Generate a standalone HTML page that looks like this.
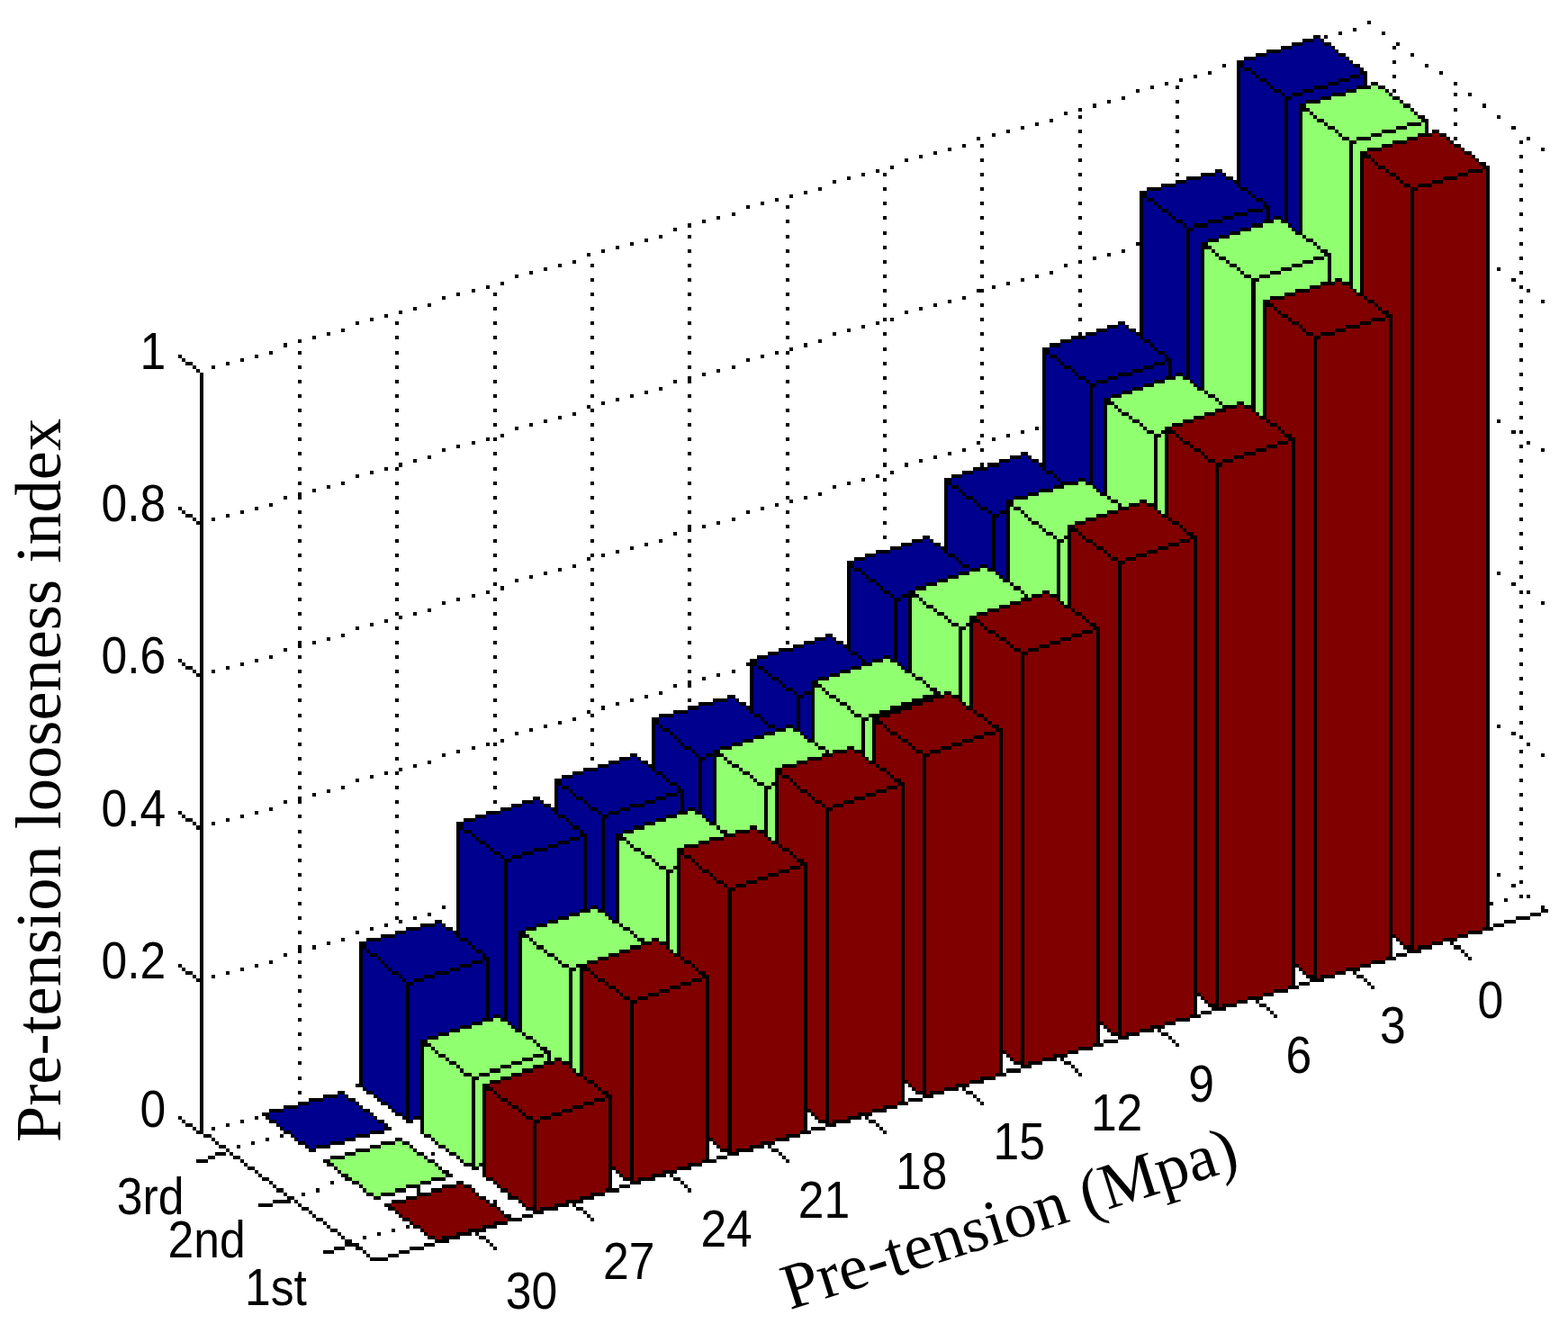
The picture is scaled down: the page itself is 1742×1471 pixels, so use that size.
<!DOCTYPE html>
<html lang="en"><head><meta charset="utf-8"><title>Pre-tension looseness index</title>
<style>
html,body{margin:0;padding:0;background:#fff;}
body{width:1742px;height:1471px;overflow:hidden;position:relative;}
svg{position:absolute;left:0;top:0;display:block;}
.tick text{font-family:"Liberation Sans",sans-serif;font-size:58px;fill:#000;}
.ttl text{font-family:"Liberation Serif",serif;fill:#000;}
</style></head><body>
<svg width="1742" height="1471" viewBox="0 0 1742 1471">
<rect width="1742" height="1471" fill="#fff"/>
<g transform="translate(1.72,2.65) scale(4.0138,4.0301)" shape-rendering="crispEdges">
<path fill="#00008f" d="M363 10h2v1h-2zM360 11h6v1h-6zM357 12h11v1h-11zM354 13h15v1h-15zM350 14h20v1h-20zM347 15h25v1h-25zM344 16h29v1h-29zM344 17h30v1h-30zM343 18h1v1h-1zM346 18h30v1h-30zM343 19h3v1h-3zM347 19h29v1h-29zM343 20h4v1h-4zM348 20h25v1h-25zM376 20h1v1h-1zM343 21h5v1h-5zM350 21h20v1h-20zM373 21h4v1h-4zM343 22h7v1h-7zM351 22h16v1h-16zM370 22h7v1h-7zM343 23h8v1h-8zM352 23h11v1h-11zM367 23h8v1h-8zM343 24h9v1h-9zM354 24h6v1h-6zM363 24h9v1h-9zM343 25h11v1h-11zM355 25h2v1h-2zM360 25h8v1h-8zM343 26h12v25h-12zM357 26h8v1h-8zM356 27h5v1h-5zM356 28h3v33h-3zM336 47h2v1h-2zM332 48h7v1h-7zM328 49h13v1h-13zM325 50h17v1h-17zM321 51h22v1h-22zM345 51h10v1h-10zM317 52h28v1h-28zM346 52h9v1h-9zM317 53h29v1h-29zM347 53h8v1h-8zM316 54h1v1h-1zM319 54h28v1h-28zM349 54h6v1h-6zM316 55h3v1h-3zM320 55h29v1h-29zM350 55h5v1h-5zM316 56h4v1h-4zM321 56h28v1h-28zM351 56h4v3h-4zM316 57h5v1h-5zM323 57h22v1h-22zM349 57h1v1h-1zM316 58h7v1h-7zM324 58h17v1h-17zM345 58h5v1h-5zM316 59h8v1h-8zM325 59h13v1h-13zM341 59h9v1h-9zM351 59h1v1h-1zM354 59h1v1h-1zM316 60h9v1h-9zM327 60h7v1h-7zM338 60h11v1h-11zM316 61h11v1h-11zM328 61h2v1h-2zM334 61h12v1h-12zM357 61h2v1h-2zM316 62h12v31h-12zM330 62h13v1h-13zM358 62h1v1h-1zM329 63h11v1h-11zM329 64h8v1h-8zM329 65h5v1h-5zM329 66h3v38h-3zM309 89h2v1h-2zM306 90h6v1h-6zM303 91h11v1h-11zM300 92h15v1h-15zM296 93h20v1h-20zM318 93h10v1h-10zM293 94h25v1h-25zM319 94h9v1h-9zM290 95h29v1h-29zM320 95h8v1h-8zM290 96h30v1h-30zM322 96h6v1h-6zM289 97h1v1h-1zM292 97h30v1h-30zM323 97h5v1h-5zM289 98h3v1h-3zM293 98h29v1h-29zM324 98h4v4h-4zM289 99h4v1h-4zM294 99h25v1h-25zM322 99h1v1h-1zM289 100h5v1h-5zM296 100h20v1h-20zM319 100h4v1h-4zM289 101h7v1h-7zM297 101h16v1h-16zM316 101h7v1h-7zM289 102h8v1h-8zM298 102h11v1h-11zM313 102h10v1h-10zM324 102h1v1h-1zM327 102h1v1h-1zM289 103h9v1h-9zM300 103h6v1h-6zM309 103h13v1h-13zM289 104h11v1h-11zM301 104h2v1h-2zM306 104h13v1h-13zM330 104h2v1h-2zM289 105h12v24h-12zM303 105h13v1h-13zM331 105h1v1h-1zM302 106h11v1h-11zM302 107h8v1h-8zM302 108h5v1h-5zM302 109h3v24h-3zM282 125h2v1h-2zM279 126h6v1h-6zM276 127h11v1h-11zM273 128h15v1h-15zM269 129h20v1h-20zM291 129h10v1h-10zM266 130h25v1h-25zM292 130h9v1h-9zM263 131h29v1h-29zM293 131h5v1h-5zM300 131h1v1h-1zM263 132h30v1h-30zM262 133h1v1h-1zM265 133h26v1h-26zM303 133h2v1h-2zM262 134h3v1h-3zM266 134h21v1h-21zM304 134h1v1h-1zM262 135h4v1h-4zM267 135h17v1h-17zM262 136h5v1h-5zM269 136h11v1h-11zM262 137h7v1h-7zM270 137h8v1h-8zM262 138h8v1h-8zM271 138h7v1h-7zM262 139h9v1h-9zM273 139h5v1h-5zM262 140h11v1h-11zM274 140h2v1h-2zM262 141h12v11h-12zM276 141h2v1h-2zM275 142h3v15h-3zM255 148h2v1h-2zM252 149h6v1h-6zM249 150h11v1h-11zM246 151h15v1h-15zM242 152h20v1h-20zM264 152h10v1h-10zM239 153h25v1h-25zM265 153h9v1h-9zM236 154h29v1h-29zM266 154h8v1h-8zM236 155h30v1h-30zM268 155h3v1h-3zM273 155h1v1h-1zM235 156h1v1h-1zM238 156h30v1h-30zM235 157h3v1h-3zM239 157h26v1h-26zM276 157h2v1h-2zM235 158h4v1h-4zM240 158h22v1h-22zM277 158h1v1h-1zM235 159h5v1h-5zM242 159h17v1h-17zM235 160h7v1h-7zM243 160h13v1h-13zM235 161h8v1h-8zM244 161h9v1h-9zM235 162h9v1h-9zM246 162h5v1h-5zM235 163h11v1h-11zM247 163h2v1h-2zM235 164h12v15h-12zM249 164h2v1h-2zM248 165h3v17h-3zM228 175h2v1h-2zM225 176h6v1h-6zM222 177h11v1h-11zM219 178h15v1h-15zM215 179h20v1h-20zM237 179h10v1h-10zM212 180h25v1h-25zM238 180h6v1h-6zM246 180h1v1h-1zM209 181h29v2h-29zM239 181h2v1h-2zM249 182h2v1h-2zM208 183h1v1h-1zM211 183h24v1h-24zM250 183h1v1h-1zM208 184h3v1h-3zM212 184h20v1h-20zM208 185h4v1h-4zM213 185h16v1h-16zM208 186h5v1h-5zM215 186h11v1h-11zM208 187h7v1h-7zM216 187h8v1h-8zM208 188h8v1h-8zM217 188h7v1h-7zM208 189h9v1h-9zM219 189h5v1h-5zM208 190h11v1h-11zM220 190h2v1h-2zM208 191h12v5h-12zM222 191h2v1h-2zM201 192h2v1h-2zM221 192h3v9h-3zM197 193h7v1h-7zM193 194h13v1h-13zM190 195h17v1h-17zM186 196h22v1h-22zM210 196h10v1h-10zM182 197h28v1h-28zM211 197h9v1h-9zM182 198h29v1h-29zM212 198h8v1h-8zM181 199h1v1h-1zM183 199h29v1h-29zM214 199h3v1h-3zM219 199h1v1h-1zM181 200h2v1h-2zM185 200h29v1h-29zM181 201h4v1h-4zM186 201h25v1h-25zM222 201h2v1h-2zM181 202h5v1h-5zM187 202h21v1h-21zM223 202h1v1h-1zM181 203h6v1h-6zM188 203h17v1h-17zM181 204h7v1h-7zM189 204h13v1h-13zM181 205h8v1h-8zM191 205h8v1h-8zM181 206h10v1h-10zM192 206h5v1h-5zM181 207h11v1h-11zM193 207h2v1h-2zM174 208h2v1h-2zM181 208h12v4h-12zM195 208h2v1h-2zM171 209h6v1h-6zM194 209h3v15h-3zM168 210h11v1h-11zM165 211h15v1h-15zM161 212h20v1h-20zM183 212h10v1h-10zM158 213h25v1h-25zM184 213h9v1h-9zM155 214h29v1h-29zM185 214h8v1h-8zM155 215h30v1h-30zM187 215h6v1h-6zM154 216h1v1h-1zM157 216h30v1h-30zM188 216h5v1h-5zM154 217h3v1h-3zM158 217h29v1h-29zM189 217h4v5h-4zM154 218h4v1h-4zM159 218h25v1h-25zM187 218h1v1h-1zM154 219h5v1h-5zM161 219h20v1h-20zM184 219h4v1h-4zM147 220h2v1h-2zM154 220h7v1h-7zM162 220h16v1h-16zM181 220h7v1h-7zM144 221h6v1h-6zM154 221h8v1h-8zM163 221h11v1h-11zM178 221h10v1h-10zM141 222h11v1h-11zM154 222h9v1h-9zM165 222h6v1h-6zM174 222h14v1h-14zM189 222h1v1h-1zM192 222h1v1h-1zM138 223h15v1h-15zM154 223h11v1h-11zM166 223h2v1h-2zM171 223h16v1h-16zM134 224h20v1h-20zM156 224h10v1h-10zM168 224h16v1h-16zM195 224h2v1h-2zM131 225h25v1h-25zM157 225h9v1h-9zM167 225h14v1h-14zM196 225h1v1h-1zM128 226h29v1h-29zM158 226h8v1h-8zM167 226h11v1h-11zM128 227h30v1h-30zM160 227h6v1h-6zM167 227h8v1h-8zM127 228h1v1h-1zM130 228h30v1h-30zM161 228h5v1h-5zM167 228h5v1h-5zM127 229h3v1h-3zM131 229h29v1h-29zM162 229h4v20h-4zM167 229h3v22h-3zM127 230h4v1h-4zM132 230h25v1h-25zM160 230h1v1h-1zM127 231h5v1h-5zM134 231h20v1h-20zM157 231h4v1h-4zM127 232h7v1h-7zM135 232h16v1h-16zM154 232h7v1h-7zM127 233h8v1h-8zM136 233h11v1h-11zM151 233h10v1h-10zM127 234h9v1h-9zM138 234h6v1h-6zM147 234h14v1h-14zM127 235h11v1h-11zM139 235h2v1h-2zM144 235h17v1h-17zM127 236h12v22h-12zM141 236h20v1h-20zM140 237h21v13h-21zM162 249h1v1h-1zM165 249h1v1h-1zM140 250h20v1h-20zM140 251h17v1h-17zM168 251h2v1h-2zM140 252h14v1h-14zM169 252h1v1h-1zM140 253h11v1h-11zM120 254h2v1h-2zM140 254h8v1h-8zM116 255h7v1h-7zM140 255h5v1h-5zM112 256h13v1h-13zM140 256h3v25h-3zM109 257h17v1h-17zM105 258h22v1h-22zM129 258h10v1h-10zM101 259h28v1h-28zM130 259h9v1h-9zM101 260h29v1h-29zM131 260h8v1h-8zM100 261h1v1h-1zM102 261h29v1h-29zM133 261h6v1h-6zM100 262h2v1h-2zM104 262h29v1h-29zM134 262h5v1h-5zM100 263h4v1h-4zM105 263h28v1h-28zM135 263h4v16h-4zM100 264h5v1h-5zM106 264h24v1h-24zM133 264h1v1h-1zM100 265h6v1h-6zM107 265h20v1h-20zM130 265h4v1h-4zM100 266h7v1h-7zM108 266h16v1h-16zM127 266h7v1h-7zM100 267h8v1h-8zM110 267h10v1h-10zM124 267h10v1h-10zM100 268h10v1h-10zM111 268h6v1h-6zM120 268h14v1h-14zM100 269h11v1h-11zM112 269h2v1h-2zM117 269h17v1h-17zM100 270h12v29h-12zM114 270h20v1h-20zM113 271h21v9h-21zM135 279h1v1h-1zM138 279h1v1h-1zM113 280h20v1h-20zM113 281h17v1h-17zM141 281h2v1h-2zM113 282h14v1h-14zM142 282h1v1h-1zM113 283h11v1h-11zM113 284h8v1h-8zM113 285h5v1h-5zM113 286h3v21h-3zM101 299h11v1h-11zM103 300h9v1h-9zM93 301h2v1h-2zM104 301h8v1h-8zM89 302h7v1h-7zM105 302h7v1h-7zM85 303h13v1h-13zM107 303h5v1h-5zM82 304h17v1h-17zM108 304h4v1h-4zM78 305h22v1h-22zM109 305h3v1h-3zM74 306h28v1h-28zM111 306h1v1h-1zM74 307h29v1h-29zM113 307h1v1h-1zM76 308h28v1h-28zM77 309h29v1h-29zM78 310h28v1h-28zM80 311h22v1h-22zM81 312h17v1h-17zM82 313h13v1h-13zM84 314h7v1h-7zM85 315h2v1h-2z"/>
<path fill="#90ff70" d="M379 23h2v1h-2zM375 24h8v1h-8zM372 25h12v1h-12zM368 26h17v1h-17zM365 27h22v1h-22zM361 28h27v1h-27zM362 29h28v1h-28zM360 30h2v1h-2zM363 30h28v1h-28zM360 31h3v1h-3zM364 31h28v1h-28zM360 32h4v1h-4zM366 32h27v1h-27zM360 33h6v1h-6zM367 33h22v1h-22zM393 33h1v1h-1zM360 34h7v1h-7zM369 34h17v1h-17zM389 34h5v1h-5zM360 35h9v1h-9zM370 35h12v1h-12zM386 35h8v1h-8zM360 36h10v1h-10zM371 36h8v1h-8zM382 36h10v1h-10zM360 37h11v1h-11zM373 37h2v1h-2zM379 37h10v1h-10zM360 38h13v26h-13zM375 38h10v1h-10zM374 39h8v1h-8zM374 40h4v1h-4zM374 41h2v38h-2zM352 60h2v1h-2zM349 61h7v1h-7zM346 62h11v1h-11zM343 63h15v1h-15zM340 64h20v1h-20zM361 64h12v1h-12zM337 65h24v1h-24zM363 65h10v1h-10zM334 66h29v1h-29zM364 66h9v1h-9zM335 67h29v1h-29zM365 67h8v1h-8zM333 68h2v1h-2zM336 68h29v1h-29zM367 68h6v1h-6zM333 69h3v1h-3zM337 69h29v1h-29zM368 69h5v7h-5zM333 70h4v1h-4zM339 70h24v1h-24zM366 70h1v1h-1zM333 71h6v1h-6zM340 71h20v1h-20zM363 71h4v1h-4zM333 72h7v1h-7zM342 72h15v1h-15zM360 72h7v1h-7zM333 73h9v1h-9zM343 73h11v1h-11zM357 73h10v1h-10zM333 74h10v1h-10zM344 74h7v1h-7zM354 74h13v1h-13zM333 75h11v1h-11zM346 75h2v1h-2zM351 75h16v1h-16zM333 76h13v31h-13zM348 76h19v1h-19zM368 76h1v1h-1zM371 76h2v1h-2zM347 77h18v1h-18zM347 78h15v1h-15zM347 79h11v1h-11zM375 79h1v1h-1zM347 80h8v1h-8zM347 81h4v1h-4zM347 82h2v31h-2zM325 103h2v1h-2zM322 104h7v1h-7zM319 105h11v1h-11zM316 106h15v1h-15zM313 107h20v1h-20zM334 107h12v1h-12zM310 108h24v1h-24zM336 108h10v1h-10zM307 109h29v1h-29zM337 109h9v1h-9zM308 110h29v1h-29zM338 110h4v1h-4zM344 110h2v1h-2zM306 111h2v1h-2zM309 111h29v1h-29zM306 112h3v1h-3zM310 112h26v1h-26zM306 113h4v1h-4zM312 113h21v1h-21zM348 113h1v1h-1zM306 114h6v1h-6zM313 114h17v1h-17zM306 115h7v1h-7zM315 115h12v1h-12zM306 116h9v1h-9zM316 116h8v1h-8zM306 117h10v1h-10zM317 117h5v1h-5zM306 118h11v1h-11zM319 118h2v1h-2zM306 119h13v17h-13zM321 119h1v1h-1zM320 120h2v20h-2zM298 132h2v1h-2zM294 133h8v1h-8zM291 134h12v1h-12zM287 135h17v1h-17zM284 136h22v1h-22zM307 136h12v1h-12zM280 137h27v1h-27zM309 137h6v1h-6zM317 137h2v1h-2zM280 138h29v1h-29zM310 138h2v1h-2zM279 139h1v1h-1zM282 139h27v1h-27zM279 140h3v1h-3zM283 140h23v1h-23zM321 140h1v1h-1zM279 141h4v1h-4zM284 141h19v1h-19zM279 142h5v1h-5zM285 142h15v1h-15zM279 143h6v1h-6zM287 143h10v1h-10zM279 144h8v1h-8zM288 144h7v1h-7zM279 145h9v1h-9zM289 145h6v1h-6zM279 146h10v1h-10zM291 146h4v1h-4zM279 147h12v1h-12zM292 147h2v1h-2zM279 148h13v12h-13zM294 148h1v1h-1zM293 149h2v16h-2zM271 156h2v1h-2zM268 157h7v1h-7zM265 158h11v1h-11zM262 159h15v1h-15zM259 160h20v1h-20zM280 160h12v1h-12zM256 161h24v1h-24zM282 161h10v1h-10zM253 162h29v1h-29zM283 162h5v1h-5zM290 162h2v1h-2zM254 163h29v1h-29zM284 163h1v1h-1zM252 164h2v1h-2zM255 164h27v1h-27zM252 165h3v1h-3zM256 165h23v1h-23zM294 165h1v1h-1zM252 166h4v1h-4zM258 166h18v1h-18zM252 167h6v1h-6zM259 167h14v1h-14zM252 168h7v1h-7zM261 168h9v1h-9zM252 169h9v1h-9zM262 169h6v1h-6zM252 170h10v1h-10zM263 170h5v1h-5zM252 171h11v1h-11zM265 171h2v1h-2zM252 172h13v13h-13zM267 172h1v1h-1zM266 173h2v20h-2zM244 181h2v1h-2zM241 182h7v1h-7zM238 183h11v1h-11zM235 184h15v1h-15zM232 185h20v1h-20zM253 185h12v1h-12zM229 186h24v1h-24zM255 186h10v1h-10zM226 187h29v1h-29zM256 187h9v1h-9zM227 188h29v1h-29zM257 188h8v1h-8zM225 189h2v1h-2zM228 189h29v1h-29zM259 189h6v1h-6zM225 190h3v1h-3zM229 190h29v1h-29zM260 190h1v1h-1zM263 190h2v1h-2zM225 191h4v1h-4zM231 191h24v1h-24zM225 192h6v1h-6zM232 192h20v1h-20zM225 193h7v1h-7zM234 193h15v1h-15zM267 193h1v1h-1zM225 194h9v1h-9zM235 194h11v1h-11zM225 195h10v1h-10zM236 195h7v1h-7zM225 196h11v1h-11zM238 196h2v1h-2zM225 197h13v7h-13zM240 197h1v1h-1zM239 198h2v10h-2zM217 200h2v1h-2zM214 201h7v1h-7zM211 202h11v1h-11zM208 203h15v1h-15zM205 204h20v1h-20zM226 204h12v1h-12zM202 205h24v1h-24zM228 205h6v1h-6zM236 205h2v1h-2zM199 206h29v1h-29zM229 206h1v1h-1zM200 207h27v1h-27zM198 208h2v1h-2zM201 208h22v1h-22zM240 208h1v1h-1zM198 209h3v1h-3zM202 209h18v1h-18zM198 210h4v1h-4zM204 210h12v1h-12zM198 211h6v1h-6zM205 211h9v1h-9zM198 212h7v1h-7zM207 212h7v1h-7zM198 213h9v1h-9zM208 213h6v1h-6zM198 214h10v1h-10zM209 214h5v1h-5zM198 215h11v1h-11zM211 215h2v1h-2zM198 216h13v11h-13zM213 216h1v1h-1zM212 217h2v13h-2zM190 223h2v1h-2zM187 224h7v1h-7zM184 225h11v1h-11zM181 226h15v1h-15zM178 227h20v1h-20zM199 227h8v1h-8zM209 227h2v1h-2zM175 228h24v1h-24zM201 228h2v1h-2zM172 229h28v1h-28zM173 230h23v1h-23zM213 230h1v1h-1zM171 231h2v1h-2zM174 231h19v1h-19zM171 232h3v1h-3zM175 232h14v1h-14zM171 233h4v1h-4zM177 233h10v1h-10zM171 234h6v1h-6zM178 234h9v1h-9zM171 235h7v1h-7zM180 235h7v1h-7zM171 236h9v1h-9zM181 236h6v1h-6zM171 237h10v1h-10zM182 237h5v1h-5zM171 238h11v1h-11zM184 238h2v1h-2zM171 239h13v15h-13zM186 239h1v1h-1zM185 240h2v21h-2zM163 250h2v1h-2zM160 251h7v1h-7zM157 252h11v1h-11zM154 253h15v1h-15zM151 254h20v1h-20zM172 254h12v1h-12zM148 255h24v1h-24zM174 255h10v1h-10zM145 256h29v1h-29zM175 256h9v1h-9zM146 257h29v1h-29zM176 257h8v1h-8zM144 258h2v1h-2zM147 258h29v1h-29zM178 258h2v1h-2zM182 258h2v1h-2zM144 259h3v1h-3zM148 259h29v1h-29zM144 260h4v1h-4zM150 260h24v1h-24zM144 261h6v1h-6zM151 261h20v1h-20zM186 261h1v1h-1zM144 262h7v1h-7zM153 262h15v1h-15zM144 263h9v1h-9zM154 263h11v1h-11zM144 264h10v1h-10zM155 264h7v1h-7zM144 265h11v1h-11zM157 265h2v1h-2zM144 266h13v18h-13zM159 266h1v1h-1zM158 267h2v27h-2zM136 280h2v1h-2zM133 281h7v1h-7zM130 282h11v1h-11zM127 283h15v1h-15zM124 284h20v1h-20zM145 284h12v1h-12zM121 285h24v1h-24zM147 285h10v1h-10zM118 286h29v1h-29zM148 286h9v1h-9zM119 287h29v1h-29zM149 287h8v1h-8zM117 288h2v1h-2zM120 288h29v1h-29zM151 288h6v1h-6zM117 289h3v1h-3zM121 289h29v1h-29zM152 289h5v2h-5zM117 290h4v1h-4zM123 290h24v1h-24zM150 290h1v1h-1zM117 291h6v1h-6zM124 291h20v1h-20zM147 291h4v1h-4zM152 291h1v1h-1zM155 291h2v1h-2zM117 292h7v1h-7zM126 292h15v1h-15zM144 292h6v1h-6zM117 293h9v1h-9zM127 293h11v1h-11zM141 293h6v1h-6zM117 294h10v1h-10zM128 294h7v1h-7zM138 294h6v1h-6zM159 294h1v1h-1zM117 295h11v1h-11zM130 295h2v1h-2zM135 295h6v1h-6zM117 296h13v16h-13zM132 296h6v1h-6zM131 297h4v1h-4zM131 298h2v22h-2zM119 312h11v1h-11zM120 313h10v1h-10zM109 314h2v1h-2zM121 314h9v1h-9zM105 315h8v1h-8zM123 315h7v1h-7zM102 316h12v1h-12zM124 316h6v1h-6zM98 317h17v1h-17zM126 317h4v1h-4zM95 318h22v1h-22zM127 318h3v1h-3zM91 319h27v1h-27zM128 319h2v1h-2zM92 320h28v1h-28zM131 320h1v1h-1zM93 321h28v1h-28zM94 322h28v1h-28zM96 323h27v1h-27zM97 324h22v1h-22zM99 325h17v1h-17zM100 326h12v1h-12zM101 327h8v1h-8zM103 328h2v1h-2z"/>
<path fill="#800000" d="M396 36h2v1h-2zM392 37h8v1h-8zM389 38h12v1h-12zM385 39h17v1h-17zM382 40h22v1h-22zM378 41h27v1h-27zM379 42h28v1h-28zM377 43h2v1h-2zM380 43h28v1h-28zM377 44h3v1h-3zM381 44h28v1h-28zM377 45h4v1h-4zM383 45h27v1h-27zM377 46h6v1h-6zM384 46h22v1h-22zM410 46h1v1h-1zM377 47h7v1h-7zM386 47h17v1h-17zM406 47h5v1h-5zM377 48h9v1h-9zM387 48h12v1h-12zM403 48h8v1h-8zM377 49h10v1h-10zM388 49h8v1h-8zM399 49h12v1h-12zM377 50h11v1h-11zM390 50h2v1h-2zM396 50h15v1h-15zM377 51h13v30h-13zM392 51h19v1h-19zM391 52h20v203h-20zM369 77h2v1h-2zM365 78h8v1h-8zM362 79h12v1h-12zM358 80h17v1h-17zM355 81h22v1h-22zM378 81h12v1h-12zM351 82h27v1h-27zM380 82h10v1h-10zM352 83h28v1h-28zM381 83h9v1h-9zM350 84h2v1h-2zM353 84h28v1h-28zM382 84h8v1h-8zM350 85h3v1h-3zM354 85h28v1h-28zM384 85h6v1h-6zM350 86h4v1h-4zM356 86h27v1h-27zM385 86h5v171h-5zM350 87h6v1h-6zM357 87h22v1h-22zM383 87h1v1h-1zM350 88h7v1h-7zM359 88h17v1h-17zM379 88h5v1h-5zM350 89h9v1h-9zM360 89h12v1h-12zM376 89h8v1h-8zM350 90h10v1h-10zM361 90h8v1h-8zM372 90h12v1h-12zM350 91h11v1h-11zM363 91h2v1h-2zM369 91h15v1h-15zM350 92h13v23h-13zM365 92h19v1h-19zM364 93h20v170h-20zM342 111h2v1h-2zM339 112h7v1h-7zM336 113h11v1h-11zM333 114h15v1h-15zM330 115h20v1h-20zM351 115h12v1h-12zM327 116h24v1h-24zM353 116h10v1h-10zM324 117h29v1h-29zM354 117h9v1h-9zM325 118h29v1h-29zM355 118h8v1h-8zM323 119h2v1h-2zM326 119h29v1h-29zM357 119h6v1h-6zM323 120h3v1h-3zM327 120h29v1h-29zM358 120h5v145h-5zM323 121h4v1h-4zM329 121h24v1h-24zM356 121h1v1h-1zM323 122h6v1h-6zM330 122h20v1h-20zM353 122h4v1h-4zM323 123h7v1h-7zM332 123h15v1h-15zM350 123h7v1h-7zM323 124h9v1h-9zM333 124h11v1h-11zM347 124h10v1h-10zM323 125h10v1h-10zM334 125h7v1h-7zM344 125h13v1h-13zM323 126h11v1h-11zM336 126h2v1h-2zM341 126h16v1h-16zM323 127h13v15h-13zM338 127h19v1h-19zM337 128h20v143h-20zM315 138h2v1h-2zM312 139h7v1h-7zM309 140h11v1h-11zM306 141h15v1h-15zM303 142h20v1h-20zM324 142h12v1h-12zM300 143h24v1h-24zM326 143h10v1h-10zM297 144h29v1h-29zM327 144h9v1h-9zM298 145h29v1h-29zM328 145h8v1h-8zM296 146h2v1h-2zM299 146h29v1h-29zM330 146h6v1h-6zM296 147h3v1h-3zM300 147h29v1h-29zM331 147h5v126h-5zM296 148h4v1h-4zM302 148h24v1h-24zM329 148h1v1h-1zM296 149h6v1h-6zM303 149h20v1h-20zM326 149h4v1h-4zM296 150h7v1h-7zM305 150h15v1h-15zM323 150h7v1h-7zM296 151h9v1h-9zM306 151h11v1h-11zM320 151h10v1h-10zM296 152h10v1h-10zM307 152h7v1h-7zM317 152h13v1h-13zM296 153h11v1h-11zM309 153h2v1h-2zM314 153h16v1h-16zM296 154h13v13h-13zM311 154h19v1h-19zM310 155h20v124h-20zM288 163h2v1h-2zM285 164h7v1h-7zM282 165h11v1h-11zM279 166h15v1h-15zM276 167h20v1h-20zM297 167h12v1h-12zM273 168h24v1h-24zM299 168h10v1h-10zM270 169h29v1h-29zM300 169h9v1h-9zM271 170h29v1h-29zM301 170h8v1h-8zM269 171h2v1h-2zM272 171h29v1h-29zM303 171h6v1h-6zM269 172h3v1h-3zM273 172h29v1h-29zM304 172h5v109h-5zM269 173h4v1h-4zM275 173h24v1h-24zM302 173h1v1h-1zM269 174h6v1h-6zM276 174h20v1h-20zM299 174h4v1h-4zM269 175h7v1h-7zM278 175h15v1h-15zM296 175h7v1h-7zM269 176h9v1h-9zM279 176h11v1h-11zM293 176h10v1h-10zM269 177h10v1h-10zM280 177h7v1h-7zM290 177h13v1h-13zM269 178h11v1h-11zM282 178h2v1h-2zM287 178h16v1h-16zM269 179h13v16h-13zM284 179h19v1h-19zM283 180h20v107h-20zM261 191h2v1h-2zM258 192h7v1h-7zM255 193h11v1h-11zM252 194h15v1h-15zM249 195h20v1h-20zM270 195h12v1h-12zM246 196h24v1h-24zM272 196h10v1h-10zM243 197h29v1h-29zM273 197h9v1h-9zM244 198h29v1h-29zM274 198h8v1h-8zM242 199h2v1h-2zM245 199h29v1h-29zM276 199h6v1h-6zM242 200h3v1h-3zM246 200h29v1h-29zM277 200h5v89h-5zM242 201h4v1h-4zM248 201h24v1h-24zM275 201h1v1h-1zM242 202h6v1h-6zM249 202h20v1h-20zM272 202h4v1h-4zM242 203h7v1h-7zM251 203h15v1h-15zM269 203h7v1h-7zM242 204h9v1h-9zM252 204h11v1h-11zM266 204h10v1h-10zM242 205h10v1h-10zM253 205h7v1h-7zM263 205h13v1h-13zM234 206h2v1h-2zM242 206h11v1h-11zM255 206h2v1h-2zM260 206h16v1h-16zM230 207h8v1h-8zM242 207h13v3h-13zM257 207h19v1h-19zM227 208h12v1h-12zM256 208h20v87h-20zM223 209h17v1h-17zM220 210h22v1h-22zM243 210h12v1h-12zM216 211h27v1h-27zM245 211h10v1h-10zM216 212h29v1h-29zM246 212h9v1h-9zM215 213h1v1h-1zM218 213h28v1h-28zM247 213h8v1h-8zM215 214h3v1h-3zM219 214h28v1h-28zM249 214h6v1h-6zM215 215h4v1h-4zM220 215h28v1h-28zM250 215h5v82h-5zM215 216h5v1h-5zM221 216h24v1h-24zM248 216h1v1h-1zM215 217h6v1h-6zM223 217h19v1h-19zM245 217h4v1h-4zM215 218h8v1h-8zM224 218h15v1h-15zM242 218h7v1h-7zM215 219h9v1h-9zM225 219h11v1h-11zM239 219h10v1h-10zM215 220h10v1h-10zM227 220h6v1h-6zM236 220h13v1h-13zM215 221h12v1h-12zM228 221h2v1h-2zM233 221h16v1h-16zM215 222h13v10h-13zM230 222h19v1h-19zM229 223h20v80h-20zM207 228h2v1h-2zM203 229h8v1h-8zM200 230h12v1h-12zM196 231h17v1h-17zM193 232h22v1h-22zM216 232h12v1h-12zM189 233h27v1h-27zM218 233h10v1h-10zM189 234h29v1h-29zM219 234h9v1h-9zM188 235h1v1h-1zM191 235h28v1h-28zM220 235h8v1h-8zM188 236h3v1h-3zM192 236h28v1h-28zM222 236h6v1h-6zM188 237h4v1h-4zM193 237h28v1h-28zM223 237h5v68h-5zM188 238h5v1h-5zM194 238h24v1h-24zM221 238h1v1h-1zM188 239h6v1h-6zM196 239h19v1h-19zM218 239h4v1h-4zM188 240h8v1h-8zM197 240h15v1h-15zM215 240h7v1h-7zM188 241h9v1h-9zM198 241h11v1h-11zM212 241h10v1h-10zM188 242h10v1h-10zM200 242h6v1h-6zM209 242h13v1h-13zM188 243h12v1h-12zM201 243h2v1h-2zM206 243h16v1h-16zM188 244h13v19h-13zM203 244h19v1h-19zM202 245h20v66h-20zM391 255h19v1h-19zM391 256h15v1h-15zM386 257h4v1h-4zM391 257h12v1h-12zM387 258h3v1h-3zM391 258h8v1h-8zM180 259h2v1h-2zM388 259h2v1h-2zM391 259h5v1h-5zM177 260h7v1h-7zM391 260h1v1h-1zM174 261h11v1h-11zM171 262h15v1h-15zM168 263h20v1h-20zM189 263h12v1h-12zM364 263h19v1h-19zM165 264h24v1h-24zM191 264h10v1h-10zM364 264h15v1h-15zM162 265h29v1h-29zM192 265h9v1h-9zM359 265h4v1h-4zM364 265h12v1h-12zM163 266h29v1h-29zM193 266h8v1h-8zM360 266h3v1h-3zM364 266h8v1h-8zM161 267h2v1h-2zM164 267h29v1h-29zM195 267h6v1h-6zM361 267h2v1h-2zM364 267h5v1h-5zM161 268h3v1h-3zM165 268h29v1h-29zM196 268h5v45h-5zM364 268h1v1h-1zM161 269h4v1h-4zM167 269h24v1h-24zM194 269h1v1h-1zM161 270h6v1h-6zM168 270h20v1h-20zM191 270h4v1h-4zM161 271h7v1h-7zM170 271h15v1h-15zM188 271h7v1h-7zM337 271h19v1h-19zM161 272h9v1h-9zM171 272h11v1h-11zM185 272h10v1h-10zM337 272h15v1h-15zM161 273h10v1h-10zM172 273h7v1h-7zM182 273h13v1h-13zM332 273h4v1h-4zM337 273h12v1h-12zM161 274h11v1h-11zM174 274h2v1h-2zM179 274h16v1h-16zM333 274h3v1h-3zM337 274h8v1h-8zM161 275h13v21h-13zM176 275h19v1h-19zM334 275h2v1h-2zM337 275h5v1h-5zM175 276h20v43h-20zM337 276h1v1h-1zM310 279h19v1h-19zM310 280h15v1h-15zM305 281h4v1h-4zM310 281h12v1h-12zM306 282h3v1h-3zM310 282h8v1h-8zM307 283h2v1h-2zM310 283h5v1h-5zM310 284h1v1h-1zM283 287h19v1h-19zM283 288h15v1h-15zM278 289h4v1h-4zM283 289h12v1h-12zM279 290h3v1h-3zM283 290h8v1h-8zM280 291h2v1h-2zM283 291h5v1h-5zM153 292h2v1h-2zM283 292h1v1h-1zM150 293h7v1h-7zM147 294h11v1h-11zM144 295h15v1h-15zM256 295h19v1h-19zM141 296h20v1h-20zM162 296h12v1h-12zM256 296h15v1h-15zM138 297h24v1h-24zM164 297h10v1h-10zM251 297h4v1h-4zM256 297h12v1h-12zM135 298h29v1h-29zM165 298h9v1h-9zM252 298h3v1h-3zM256 298h8v1h-8zM136 299h29v1h-29zM166 299h8v1h-8zM253 299h2v1h-2zM256 299h5v1h-5zM134 300h2v1h-2zM137 300h29v1h-29zM168 300h6v1h-6zM256 300h1v1h-1zM134 301h3v1h-3zM138 301h29v1h-29zM169 301h5v20h-5zM134 302h4v1h-4zM140 302h24v1h-24zM167 302h1v1h-1zM134 303h6v1h-6zM141 303h20v1h-20zM164 303h4v1h-4zM229 303h19v1h-19zM134 304h7v1h-7zM143 304h15v1h-15zM161 304h7v1h-7zM229 304h15v1h-15zM134 305h9v1h-9zM144 305h11v1h-11zM158 305h10v1h-10zM224 305h4v1h-4zM229 305h12v1h-12zM134 306h10v1h-10zM145 306h7v1h-7zM155 306h13v1h-13zM225 306h3v1h-3zM229 306h8v1h-8zM134 307h11v1h-11zM147 307h2v1h-2zM152 307h16v1h-16zM226 307h2v1h-2zM229 307h5v1h-5zM134 308h13v16h-13zM149 308h19v1h-19zM229 308h1v1h-1zM148 309h20v18h-20zM202 311h19v1h-19zM202 312h15v1h-15zM197 313h4v1h-4zM202 313h12v1h-12zM198 314h3v1h-3zM202 314h8v1h-8zM199 315h2v1h-2zM202 315h5v1h-5zM202 316h1v1h-1zM175 319h19v1h-19zM175 320h15v1h-15zM170 321h4v1h-4zM175 321h12v1h-12zM171 322h3v1h-3zM175 322h8v1h-8zM172 323h2v1h-2zM175 323h5v1h-5zM136 324h11v1h-11zM175 324h1v1h-1zM137 325h10v1h-10zM126 326h2v1h-2zM138 326h9v1h-9zM122 327h8v1h-8zM140 327h7v1h-7zM148 327h19v1h-19zM119 328h12v1h-12zM141 328h6v1h-6zM148 328h15v1h-15zM115 329h17v1h-17zM143 329h4v1h-4zM148 329h12v1h-12zM112 330h22v1h-22zM144 330h3v1h-3zM148 330h8v1h-8zM108 331h27v1h-27zM145 331h2v1h-2zM148 331h5v1h-5zM109 332h28v1h-28zM148 332h1v1h-1zM110 333h28v1h-28zM111 334h28v1h-28zM113 335h27v1h-27zM114 336h22v1h-22zM116 337h17v1h-17zM117 338h12v1h-12zM118 339h8v1h-8zM120 340h2v1h-2z"/>
<path fill="#000000" d="M378 5h1v1h-1zM374 7h1v1h-1zM370 8h1v1h-1zM382 8h1v1h-1zM363 9h2v1h-2zM366 9h1v1h-1zM360 10h3v1h-3zM365 10h1v1h-1zM357 11h3v1h-3zM366 11h2v1h-2zM386 11h1v1h-1zM354 12h3v1h-3zM368 12h1v1h-1zM385 12h1v1h-1zM350 13h4v1h-4zM369 13h1v1h-1zM347 14h3v1h-3zM370 14h2v1h-2zM390 14h1v1h-1zM344 15h3v1h-3zM372 15h1v1h-1zM342 16h2v2h-2zM373 16h1v1h-1zM385 16h1v1h-1zM338 17h1v1h-1zM374 17h2v1h-2zM394 17h1v1h-1zM342 18h1v31h-1zM344 18h2v1h-2zM376 18h1v1h-1zM334 19h1v1h-1zM346 19h1v1h-1zM376 19h2v1h-2zM398 19h1v1h-1zM330 20h1v1h-1zM347 20h1v1h-1zM373 20h3v1h-3zM377 20h1v3h-1zM385 20h1v1h-1zM326 21h1v1h-1zM348 21h2v1h-2zM370 21h3v1h-3zM322 22h1v1h-1zM350 22h1v1h-1zM367 22h3v1h-3zM379 22h2v1h-2zM402 22h1v1h-1zM318 23h1v1h-1zM325 23h1v1h-1zM351 23h1v1h-1zM363 23h4v1h-4zM375 23h4v1h-4zM381 23h2v1h-2zM314 24h1v1h-1zM352 24h2v1h-2zM360 24h3v1h-3zM372 24h3v1h-3zM383 24h1v1h-1zM385 24h1v1h-1zM354 25h1v1h-1zM357 25h3v1h-3zM368 25h4v1h-4zM384 25h1v1h-1zM402 25h1v1h-1zM406 25h1v1h-1zM310 26h1v1h-1zM355 26h2v1h-2zM365 26h3v1h-3zM385 26h2v1h-2zM306 27h1v1h-1zM325 27h1v1h-1zM355 27h1v33h-1zM361 27h4v1h-4zM387 27h1v1h-1zM302 28h1v1h-1zM359 28h2v1h-2zM388 28h2v1h-2zM410 28h1v1h-1zM298 29h1v1h-1zM359 29h3v1h-3zM390 29h1v1h-1zM402 29h1v1h-1zM294 30h1v1h-1zM359 30h1v33h-1zM362 30h1v1h-1zM391 30h1v1h-1zM298 31h1v1h-1zM325 31h1v1h-1zM363 31h1v1h-1zM392 31h2v1h-2zM414 31h1v1h-1zM290 32h1v1h-1zM364 32h2v1h-2zM393 32h2v1h-2zM286 33h1v1h-1zM366 33h1v1h-1zM389 33h4v1h-4zM394 33h1v3h-1zM402 33h1v1h-1zM282 34h1v1h-1zM367 34h2v1h-2zM386 34h3v1h-3zM418 34h1v1h-1zM278 35h1v1h-1zM298 35h1v1h-1zM325 35h1v1h-1zM369 35h1v1h-1zM382 35h4v1h-4zM396 35h2v1h-2zM274 36h1v1h-1zM370 36h1v1h-1zM379 36h3v1h-3zM392 36h4v1h-4zM398 36h2v1h-2zM270 37h1v1h-1zM371 37h2v1h-2zM375 37h4v1h-4zM389 37h3v1h-3zM400 37h1v1h-1zM402 37h1v1h-1zM422 37h1v1h-1zM373 38h2v1h-2zM385 38h4v1h-4zM401 38h1v1h-1zM420 38h1v1h-1zM266 39h1v1h-1zM271 39h1v1h-1zM298 39h1v1h-1zM325 39h1v1h-1zM373 39h1v38h-1zM382 39h3v1h-3zM402 39h2v1h-2zM262 40h1v1h-1zM378 40h4v1h-4zM404 40h1v1h-1zM426 40h1v1h-1zM258 41h1v1h-1zM376 41h2v1h-2zM405 41h2v1h-2zM254 42h1v1h-1zM376 42h3v1h-3zM407 42h1v1h-1zM420 42h1v1h-1zM250 43h1v1h-1zM271 43h1v1h-1zM298 43h1v1h-1zM325 43h1v1h-1zM376 43h1v37h-1zM379 43h1v1h-1zM408 43h1v1h-1zM380 44h1v1h-1zM409 44h2v1h-2zM246 45h1v1h-1zM381 45h2v1h-2zM410 45h2v1h-2zM242 46h1v1h-1zM336 46h2v1h-2zM383 46h1v1h-1zM406 46h4v1h-4zM411 46h1v202h-1zM420 46h1v1h-1zM238 47h1v1h-1zM244 47h1v1h-1zM271 47h1v1h-1zM298 47h1v1h-1zM325 47h1v1h-1zM332 47h4v1h-4zM338 47h1v1h-1zM384 47h2v1h-2zM403 47h3v1h-3zM234 48h1v1h-1zM328 48h4v1h-4zM339 48h2v1h-2zM386 48h1v1h-1zM399 48h4v1h-4zM230 49h1v1h-1zM325 49h3v1h-3zM341 49h2v1h-2zM387 49h1v1h-1zM396 49h3v1h-3zM321 50h4v1h-4zM342 50h1v1h-1zM388 50h2v1h-2zM392 50h4v1h-4zM420 50h1v1h-1zM226 51h1v1h-1zM244 51h1v1h-1zM271 51h1v1h-1zM298 51h1v1h-1zM317 51h4v1h-4zM343 51h2v1h-2zM390 51h2v1h-2zM222 52h1v1h-1zM315 52h2v2h-2zM345 52h1v1h-1zM390 52h1v208h-1zM218 53h1v1h-1zM346 53h1v1h-1zM214 54h1v1h-1zM315 54h1v12h-1zM317 54h2v1h-2zM347 54h2v1h-2zM420 54h1v1h-1zM210 55h1v1h-1zM244 55h1v1h-1zM271 55h1v1h-1zM298 55h1v1h-1zM319 55h1v1h-1zM349 55h1v1h-1zM206 56h1v1h-1zM217 56h1v1h-1zM320 56h1v1h-1zM349 56h2v1h-2zM321 57h2v1h-2zM345 57h4v1h-4zM350 57h1v3h-1zM202 58h1v1h-1zM323 58h1v1h-1zM341 58h4v1h-4zM420 58h1v1h-1zM198 59h1v1h-1zM244 59h1v1h-1zM271 59h1v1h-1zM298 59h1v1h-1zM324 59h1v1h-1zM338 59h3v1h-3zM352 59h2v1h-2zM194 60h1v1h-1zM217 60h1v1h-1zM325 60h2v1h-2zM334 60h4v1h-4zM349 60h3v1h-3zM354 60h2v1h-2zM190 61h1v1h-1zM327 61h1v1h-1zM330 61h4v1h-4zM346 61h3v1h-3zM356 61h1v1h-1zM186 62h1v1h-1zM328 62h2v1h-2zM343 62h3v1h-3zM357 62h1v1h-1zM420 62h1v1h-1zM244 63h1v1h-1zM271 63h1v1h-1zM298 63h1v1h-1zM328 63h1v40h-1zM340 63h3v1h-3zM358 63h2v1h-2zM182 64h1v1h-1zM190 64h1v1h-1zM217 64h1v1h-1zM337 64h3v1h-3zM360 64h1v1h-1zM178 65h1v1h-1zM334 65h3v1h-3zM361 65h2v1h-2zM174 66h1v1h-1zM314 66h2v1h-2zM332 66h2v1h-2zM363 66h1v1h-1zM420 66h1v1h-1zM170 67h1v1h-1zM244 67h1v1h-1zM271 67h1v1h-1zM298 67h1v1h-1zM315 67h1v24h-1zM332 67h3v1h-3zM364 67h1v1h-1zM166 68h1v1h-1zM190 68h1v1h-1zM217 68h1v1h-1zM310 68h1v1h-1zM332 68h1v38h-1zM335 68h1v1h-1zM365 68h2v1h-2zM162 69h1v1h-1zM306 69h1v1h-1zM336 69h1v1h-1zM366 69h2v1h-2zM302 70h1v1h-1zM337 70h2v1h-2zM363 70h3v1h-3zM367 70h1v7h-1zM420 70h1v1h-1zM158 71h1v1h-1zM244 71h1v1h-1zM271 71h1v1h-1zM298 71h1v1h-1zM339 71h1v1h-1zM360 71h3v1h-3zM154 72h1v1h-1zM163 72h1v1h-1zM190 72h1v1h-1zM217 72h1v1h-1zM294 72h1v1h-1zM340 72h2v1h-2zM357 72h3v1h-3zM150 73h1v1h-1zM342 73h1v1h-1zM354 73h3v1h-3zM414 73h1v1h-1zM146 74h1v1h-1zM290 74h1v1h-1zM343 74h1v1h-1zM351 74h3v1h-3zM420 74h1v1h-1zM142 75h1v1h-1zM244 75h1v1h-1zM271 75h1v1h-1zM286 75h1v1h-1zM298 75h1v1h-1zM344 75h2v1h-2zM348 75h3v1h-3zM163 76h1v1h-1zM190 76h1v1h-1zM217 76h1v1h-1zM282 76h1v1h-1zM346 76h2v1h-2zM369 76h2v1h-2zM418 76h1v1h-1zM138 77h1v1h-1zM278 77h1v1h-1zM346 77h1v34h-1zM365 77h4v1h-4zM371 77h3v1h-3zM134 78h1v1h-1zM274 78h1v1h-1zM362 78h3v1h-3zM373 78h1v1h-1zM420 78h1v1h-1zM130 79h1v1h-1zM244 79h1v1h-1zM270 79h2v1h-2zM298 79h1v1h-1zM358 79h4v1h-4zM374 79h1v1h-1zM422 79h1v1h-1zM126 80h1v1h-1zM136 80h1v1h-1zM163 80h1v1h-1zM190 80h1v1h-1zM217 80h1v1h-1zM355 80h3v1h-3zM375 80h2v1h-2zM122 81h1v1h-1zM266 81h1v1h-1zM351 81h4v1h-4zM377 81h1v1h-1zM262 82h1v1h-1zM349 82h2v1h-2zM378 82h2v1h-2zM420 82h1v1h-1zM426 82h1v1h-1zM118 83h1v1h-1zM244 83h1v1h-1zM258 83h1v1h-1zM271 83h1v1h-1zM298 83h1v1h-1zM349 83h3v1h-3zM380 83h1v1h-1zM114 84h1v1h-1zM136 84h1v1h-1zM163 84h1v1h-1zM190 84h1v1h-1zM217 84h1v1h-1zM254 84h1v1h-1zM349 84h1v30h-1zM352 84h1v1h-1zM381 84h1v1h-1zM110 85h1v1h-1zM250 85h1v1h-1zM353 85h1v1h-1zM382 85h2v1h-2zM106 86h1v1h-1zM354 86h2v1h-2zM383 86h2v1h-2zM420 86h1v1h-1zM102 87h1v1h-1zM244 87h1v1h-1zM246 87h1v1h-1zM271 87h1v1h-1zM298 87h1v1h-1zM356 87h1v1h-1zM379 87h4v1h-4zM384 87h1v170h-1zM98 88h1v1h-1zM109 88h1v1h-1zM136 88h1v1h-1zM163 88h1v1h-1zM190 88h1v1h-1zM217 88h1v1h-1zM242 88h1v1h-1zM309 88h2v1h-2zM357 88h2v1h-2zM376 88h3v1h-3zM238 89h1v1h-1zM306 89h3v1h-3zM311 89h1v1h-1zM359 89h1v1h-1zM372 89h4v1h-4zM94 90h1v1h-1zM234 90h1v1h-1zM303 90h3v1h-3zM312 90h2v1h-2zM360 90h1v1h-1zM369 90h3v1h-3zM420 90h1v1h-1zM90 91h1v1h-1zM230 91h1v1h-1zM244 91h1v1h-1zM271 91h1v1h-1zM298 91h1v1h-1zM300 91h3v1h-3zM314 91h2v1h-2zM361 91h2v1h-2zM365 91h4v1h-4zM86 92h1v1h-1zM109 92h1v1h-1zM136 92h1v1h-1zM163 92h1v1h-1zM190 92h1v1h-1zM217 92h1v1h-1zM296 92h4v1h-4zM315 92h1v1h-1zM363 92h2v1h-2zM82 93h1v1h-1zM226 93h1v1h-1zM293 93h3v1h-3zM316 93h2v1h-2zM363 93h1v175h-1zM78 94h1v1h-1zM222 94h1v1h-1zM290 94h3v1h-3zM318 94h1v1h-1zM420 94h1v1h-1zM218 95h1v1h-1zM244 95h1v1h-1zM271 95h1v1h-1zM288 95h2v2h-2zM319 95h1v1h-1zM74 96h1v1h-1zM82 96h1v1h-1zM109 96h1v1h-1zM136 96h1v1h-1zM163 96h1v1h-1zM190 96h1v1h-1zM214 96h1v1h-1zM217 96h1v1h-1zM320 96h2v1h-2zM49 97h1v1h-1zM70 97h1v1h-1zM210 97h1v1h-1zM288 97h1v30h-1zM290 97h2v1h-2zM322 97h1v1h-1zM50 98h1v1h-1zM66 98h1v1h-1zM206 98h1v1h-1zM292 98h1v1h-1zM322 98h2v1h-2zM420 98h1v1h-1zM51 99h2v1h-2zM62 99h1v1h-1zM244 99h1v1h-1zM271 99h1v1h-1zM293 99h1v1h-1zM319 99h3v1h-3zM323 99h1v4h-1zM53 100h1v1h-1zM58 100h1v1h-1zM82 100h1v1h-1zM109 100h1v1h-1zM136 100h1v1h-1zM163 100h1v1h-1zM190 100h1v1h-1zM202 100h1v1h-1zM217 100h1v1h-1zM294 100h2v1h-2zM316 100h3v1h-3zM54 101h1v1h-1zM198 101h1v1h-1zM296 101h1v1h-1zM313 101h3v1h-3zM55 102h1v41h-1zM194 102h1v1h-1zM297 102h1v1h-1zM309 102h4v1h-4zM325 102h2v1h-2zM420 102h1v1h-1zM190 103h1v2h-1zM244 103h1v1h-1zM271 103h1v1h-1zM298 103h2v1h-2zM306 103h3v1h-3zM322 103h3v1h-3zM327 103h2v1h-2zM82 104h1v1h-1zM109 104h1v1h-1zM136 104h1v1h-1zM163 104h1v1h-1zM186 104h1v1h-1zM217 104h1v1h-1zM300 104h1v1h-1zM303 104h3v1h-3zM319 104h3v1h-3zM329 104h1v1h-1zM301 105h2v1h-2zM316 105h3v1h-3zM330 105h1v1h-1zM182 106h1v1h-1zM301 106h1v26h-1zM313 106h3v1h-3zM331 106h2v1h-2zM420 106h1v1h-1zM178 107h1v1h-1zM244 107h1v1h-1zM271 107h1v1h-1zM310 107h3v1h-3zM333 107h1v1h-1zM82 108h1v1h-1zM109 108h1v1h-1zM136 108h1v1h-1zM163 108h1v1h-1zM174 108h1v1h-1zM190 108h1v1h-1zM217 108h1v1h-1zM307 108h3v1h-3zM334 108h2v1h-2zM170 109h1v1h-1zM305 109h2v1h-2zM336 109h1v1h-1zM166 110h1v1h-1zM305 110h3v1h-3zM337 110h1v1h-1zM342 110h2v1h-2zM420 110h1v1h-1zM162 111h1v1h-1zM244 111h1v1h-1zM271 111h1v1h-1zM305 111h1v24h-1zM308 111h1v1h-1zM338 111h4v1h-4zM344 111h3v1h-3zM82 112h1v1h-1zM109 112h1v1h-1zM136 112h1v1h-1zM163 112h1v1h-1zM190 112h1v1h-1zM217 112h1v1h-1zM309 112h1v1h-1zM336 112h3v1h-3zM346 112h1v1h-1zM158 113h1v1h-1zM310 113h2v1h-2zM333 113h3v1h-3zM347 113h1v1h-1zM154 114h1v1h-1zM312 114h1v1h-1zM330 114h3v1h-3zM348 114h2v1h-2zM420 114h1v1h-1zM150 115h1v1h-1zM244 115h1v1h-1zM271 115h1v1h-1zM313 115h2v1h-2zM327 115h3v1h-3zM350 115h1v1h-1zM414 115h1v1h-1zM82 116h1v1h-1zM109 116h1v1h-1zM136 116h1v1h-1zM146 116h1v1h-1zM163 116h1v1h-1zM190 116h1v1h-1zM217 116h1v1h-1zM315 116h1v1h-1zM324 116h3v1h-3zM351 116h2v1h-2zM142 117h1v1h-1zM286 117h1v1h-1zM316 117h1v1h-1zM322 117h2v1h-2zM353 117h1v1h-1zM282 118h1v1h-1zM317 118h2v1h-2zM321 118h4v1h-4zM354 118h1v1h-1zM418 118h1v1h-1zM420 118h1v1h-1zM138 119h1v1h-1zM244 119h1v1h-1zM271 119h1v1h-1zM278 119h1v1h-1zM319 119h2v1h-2zM322 119h1v22h-1zM325 119h1v1h-1zM355 119h2v1h-2zM82 120h1v1h-1zM109 120h1v1h-1zM134 120h1v1h-1zM136 120h1v1h-1zM163 120h1v1h-1zM190 120h1v1h-1zM217 120h1v1h-1zM274 120h1v1h-1zM319 120h1v18h-1zM326 120h1v1h-1zM356 120h2v1h-2zM130 121h1v1h-1zM270 121h1v1h-1zM327 121h2v1h-2zM353 121h3v1h-3zM357 121h1v144h-1zM422 121h1v1h-1zM126 122h1v1h-1zM329 122h1v1h-1zM350 122h3v1h-3zM420 122h1v1h-1zM122 123h1v1h-1zM244 123h1v1h-1zM266 123h1v1h-1zM271 123h1v1h-1zM330 123h2v1h-2zM347 123h3v1h-3zM426 123h1v1h-1zM82 124h1v1h-1zM109 124h1v1h-1zM136 124h1v1h-1zM163 124h1v1h-1zM190 124h1v1h-1zM217 124h1v1h-1zM262 124h1v1h-1zM282 124h2v1h-2zM332 124h1v1h-1zM344 124h3v1h-3zM118 125h1v1h-1zM258 125h1v1h-1zM279 125h3v1h-3zM284 125h1v1h-1zM333 125h1v1h-1zM341 125h3v1h-3zM114 126h1v1h-1zM254 126h1v1h-1zM276 126h3v1h-3zM285 126h2v1h-2zM334 126h2v1h-2zM338 126h3v1h-3zM420 126h1v1h-1zM110 127h1v1h-1zM244 127h1v1h-1zM250 127h1v1h-1zM271 127h1v1h-1zM273 127h3v1h-3zM287 127h2v1h-2zM336 127h2v1h-2zM82 128h1v1h-1zM106 128h1v1h-1zM109 128h1v1h-1zM136 128h1v1h-1zM163 128h1v1h-1zM190 128h1v1h-1zM217 128h1v1h-1zM269 128h4v1h-4zM288 128h1v1h-1zM336 128h1v148h-1zM102 129h1v1h-1zM246 129h1v1h-1zM266 129h3v1h-3zM289 129h2v1h-2zM98 130h1v1h-1zM242 130h1v1h-1zM263 130h3v1h-3zM291 130h1v1h-1zM420 130h1v1h-1zM238 131h1v1h-1zM244 131h1v1h-1zM261 131h2v2h-2zM292 131h1v1h-1zM298 131h2v1h-2zM82 132h1v1h-1zM94 132h1v1h-1zM109 132h1v1h-1zM136 132h1v1h-1zM163 132h1v1h-1zM190 132h1v1h-1zM217 132h1v1h-1zM234 132h1v1h-1zM293 132h5v1h-5zM300 132h2v1h-2zM90 133h1v1h-1zM230 133h1v1h-1zM261 133h1v17h-1zM263 133h2v1h-2zM291 133h3v1h-3zM302 133h1v1h-1zM86 134h1v1h-1zM265 134h1v1h-1zM287 134h4v1h-4zM303 134h1v1h-1zM420 134h1v1h-1zM82 135h1v2h-1zM226 135h1v1h-1zM244 135h1v1h-1zM266 135h1v1h-1zM284 135h3v1h-3zM304 135h2v1h-2zM78 136h1v1h-1zM109 136h1v1h-1zM136 136h1v1h-1zM163 136h1v1h-1zM190 136h1v1h-1zM217 136h1v1h-1zM222 136h1v1h-1zM267 136h2v1h-2zM280 136h4v1h-4zM306 136h1v1h-1zM218 137h1v1h-1zM269 137h1v1h-1zM278 137h2v2h-2zM307 137h2v1h-2zM315 137h2v1h-2zM74 138h1v1h-1zM214 138h1v1h-1zM270 138h1v1h-1zM309 138h1v1h-1zM312 138h3v1h-3zM317 138h3v1h-3zM420 138h1v1h-1zM49 139h1v1h-1zM70 139h1v1h-1zM210 139h1v1h-1zM244 139h1v1h-1zM271 139h2v1h-2zM278 139h1v1h-1zM280 139h2v1h-2zM309 139h3v1h-3zM319 139h1v1h-1zM50 140h1v1h-1zM66 140h1v1h-1zM82 140h1v1h-1zM109 140h1v1h-1zM136 140h1v1h-1zM163 140h1v1h-1zM190 140h1v1h-1zM206 140h1v1h-1zM217 140h1v1h-1zM273 140h1v1h-1zM276 140h3v1h-3zM282 140h1v1h-1zM306 140h3v1h-3zM320 140h1v1h-1zM51 141h2v1h-2zM62 141h1v1h-1zM274 141h2v1h-2zM278 141h1v18h-1zM283 141h1v1h-1zM303 141h3v1h-3zM321 141h2v1h-2zM53 142h1v1h-1zM58 142h1v1h-1zM202 142h1v1h-1zM274 142h1v14h-1zM284 142h1v1h-1zM300 142h3v1h-3zM323 142h1v1h-1zM420 142h1v1h-1zM54 143h2v1h-2zM198 143h1v1h-1zM244 143h1v1h-1zM285 143h2v1h-2zM297 143h3v1h-3zM324 143h2v1h-2zM55 144h1v41h-1zM82 144h1v1h-1zM109 144h1v1h-1zM136 144h1v1h-1zM163 144h1v1h-1zM190 144h1v2h-1zM194 144h1v1h-1zM217 144h1v1h-1zM287 144h1v1h-1zM295 144h2v1h-2zM326 144h1v1h-1zM288 145h1v1h-1zM295 145h3v1h-3zM327 145h1v1h-1zM186 146h1v1h-1zM289 146h2v1h-2zM295 146h1v1h-1zM298 146h1v1h-1zM328 146h2v1h-2zM420 146h1v1h-1zM244 147h1v1h-1zM255 147h2v1h-2zM291 147h1v1h-1zM294 147h2v1h-2zM299 147h1v1h-1zM329 147h2v1h-2zM82 148h1v1h-1zM109 148h1v1h-1zM136 148h1v1h-1zM163 148h1v1h-1zM182 148h1v1h-1zM190 148h1v1h-1zM217 148h1v1h-1zM252 148h3v1h-3zM257 148h1v1h-1zM292 148h2v1h-2zM295 148h1v18h-1zM300 148h2v1h-2zM326 148h3v1h-3zM330 148h1v125h-1zM178 149h1v1h-1zM249 149h3v1h-3zM258 149h2v1h-2zM292 149h1v14h-1zM302 149h1v1h-1zM323 149h3v1h-3zM174 150h1v1h-1zM246 150h3v1h-3zM260 150h2v1h-2zM303 150h2v1h-2zM320 150h3v1h-3zM420 150h1v1h-1zM170 151h1v1h-1zM242 151h4v1h-4zM261 151h1v1h-1zM305 151h1v1h-1zM317 151h3v1h-3zM82 152h1v1h-1zM109 152h1v1h-1zM136 152h1v1h-1zM163 152h1v1h-1zM166 152h1v1h-1zM190 152h1v1h-1zM217 152h1v1h-1zM239 152h3v1h-3zM262 152h2v1h-2zM306 152h1v1h-1zM314 152h3v1h-3zM162 153h1v1h-1zM236 153h3v1h-3zM264 153h1v1h-1zM307 153h2v1h-2zM311 153h3v1h-3zM234 154h2v2h-2zM265 154h1v1h-1zM309 154h2v1h-2zM420 154h1v1h-1zM158 155h1v1h-1zM266 155h2v1h-2zM271 155h2v1h-2zM309 155h1v129h-1zM82 156h1v1h-1zM109 156h1v1h-1zM136 156h1v1h-1zM154 156h1v1h-1zM163 156h1v1h-1zM190 156h1v1h-1zM217 156h1v1h-1zM234 156h1v21h-1zM236 156h2v1h-2zM268 156h3v1h-3zM273 156h2v1h-2zM150 157h1v1h-1zM238 157h1v1h-1zM265 157h3v1h-3zM275 157h1v1h-1zM414 157h1v1h-1zM146 158h1v1h-1zM239 158h1v1h-1zM262 158h3v1h-3zM276 158h1v1h-1zM420 158h1v1h-1zM142 159h1v1h-1zM240 159h2v1h-2zM259 159h3v1h-3zM277 159h2v1h-2zM82 160h1v1h-1zM109 160h1v1h-1zM136 160h1v1h-1zM163 160h1v1h-1zM190 160h1v1h-1zM217 160h1v1h-1zM242 160h1v1h-1zM256 160h3v1h-3zM279 160h1v1h-1zM418 160h1v1h-1zM138 161h1v1h-1zM243 161h1v1h-1zM253 161h3v1h-3zM280 161h2v1h-2zM134 162h1v1h-1zM244 162h2v1h-2zM251 162h2v1h-2zM282 162h1v1h-1zM288 162h2v1h-2zM420 162h1v1h-1zM422 162h1v1h-1zM130 163h1v1h-1zM246 163h1v1h-1zM249 163h5v1h-5zM283 163h1v1h-1zM285 163h3v1h-3zM290 163h3v1h-3zM82 164h1v1h-1zM109 164h1v1h-1zM126 164h1v1h-1zM136 164h1v1h-1zM163 164h1v1h-1zM190 164h1v1h-1zM217 164h1v1h-1zM247 164h2v1h-2zM251 164h1v20h-1zM254 164h1v1h-1zM282 164h3v1h-3zM292 164h1v1h-1zM122 165h1v1h-1zM247 165h1v16h-1zM255 165h1v1h-1zM279 165h3v1h-3zM293 165h1v1h-1zM426 165h1v1h-1zM256 166h2v1h-2zM276 166h3v1h-3zM294 166h2v1h-2zM420 166h1v1h-1zM118 167h1v1h-1zM258 167h1v1h-1zM273 167h3v1h-3zM296 167h1v1h-1zM82 168h1v1h-1zM109 168h1v1h-1zM114 168h1v1h-1zM136 168h1v1h-1zM163 168h1v1h-1zM190 168h1v1h-1zM217 168h1v1h-1zM259 168h2v1h-2zM270 168h3v1h-3zM297 168h2v1h-2zM110 169h1v1h-1zM261 169h1v1h-1zM268 169h2v1h-2zM299 169h1v1h-1zM106 170h1v1h-1zM262 170h1v1h-1zM268 170h3v1h-3zM300 170h1v1h-1zM420 170h1v1h-1zM102 171h1v1h-1zM263 171h2v1h-2zM267 171h2v1h-2zM271 171h1v1h-1zM301 171h2v1h-2zM82 172h1v1h-1zM98 172h1v1h-1zM109 172h1v1h-1zM136 172h1v1h-1zM163 172h1v1h-1zM190 172h1v1h-1zM217 172h1v1h-1zM265 172h2v1h-2zM268 172h1v22h-1zM272 172h1v1h-1zM302 172h2v1h-2zM265 173h1v18h-1zM273 173h2v1h-2zM299 173h3v1h-3zM303 173h1v108h-1zM94 174h1v1h-1zM228 174h2v1h-2zM275 174h1v1h-1zM296 174h3v1h-3zM420 174h1v1h-1zM90 175h1v1h-1zM225 175h3v1h-3zM230 175h1v1h-1zM276 175h2v1h-2zM293 175h3v1h-3zM82 176h1v2h-1zM86 176h1v1h-1zM109 176h1v1h-1zM136 176h1v1h-1zM163 176h1v1h-1zM190 176h1v1h-1zM217 176h1v1h-1zM222 176h3v1h-3zM231 176h2v1h-2zM278 176h1v1h-1zM290 176h3v1h-3zM219 177h3v1h-3zM233 177h2v1h-2zM279 177h1v1h-1zM287 177h3v1h-3zM78 178h1v1h-1zM215 178h4v1h-4zM234 178h1v1h-1zM280 178h2v1h-2zM284 178h3v1h-3zM420 178h1v1h-1zM212 179h3v1h-3zM235 179h2v1h-2zM282 179h2v1h-2zM74 180h1v1h-1zM82 180h1v1h-1zM109 180h1v1h-1zM136 180h1v1h-1zM163 180h1v1h-1zM190 180h1v1h-1zM209 180h3v1h-3zM237 180h1v1h-1zM244 180h2v1h-2zM282 180h1v112h-1zM49 181h1v1h-1zM70 181h1v1h-1zM207 181h2v1h-2zM238 181h1v1h-1zM241 181h3v1h-3zM246 181h2v1h-2zM50 182h1v1h-1zM66 182h1v1h-1zM206 182h3v1h-3zM238 182h3v1h-3zM248 182h1v1h-1zM420 182h1v1h-1zM51 183h2v1h-2zM62 183h1v1h-1zM207 183h1v11h-1zM209 183h2v1h-2zM235 183h3v1h-3zM249 183h1v1h-1zM53 184h1v1h-1zM58 184h1v1h-1zM82 184h1v1h-1zM109 184h1v1h-1zM136 184h1v1h-1zM163 184h1v1h-1zM190 184h1v1h-1zM202 184h1v1h-1zM211 184h1v1h-1zM232 184h3v1h-3zM250 184h2v1h-2zM54 185h2v1h-2zM198 185h1v1h-1zM212 185h1v1h-1zM229 185h3v1h-3zM252 185h1v1h-1zM55 186h1v41h-1zM194 186h1v1h-1zM213 186h2v1h-2zM226 186h3v1h-3zM253 186h2v1h-2zM420 186h1v1h-1zM190 187h1v2h-1zM215 187h1v1h-1zM224 187h2v1h-2zM255 187h1v1h-1zM82 188h1v1h-1zM109 188h1v1h-1zM136 188h1v1h-1zM163 188h1v1h-1zM186 188h1v1h-1zM216 188h1v1h-1zM224 188h3v1h-3zM256 188h1v1h-1zM217 189h2v1h-2zM224 189h1v1h-1zM227 189h1v1h-1zM257 189h2v1h-2zM182 190h1v1h-1zM219 190h1v1h-1zM222 190h3v1h-3zM228 190h1v1h-1zM258 190h2v1h-2zM261 190h2v1h-2zM420 190h1v1h-1zM178 191h1v1h-1zM201 191h2v1h-2zM220 191h2v1h-2zM224 191h1v12h-1zM229 191h2v1h-2zM255 191h6v1h-6zM263 191h3v1h-3zM82 192h1v1h-1zM109 192h1v1h-1zM136 192h1v1h-1zM163 192h1v1h-1zM174 192h1v1h-1zM190 192h1v1h-1zM197 192h4v1h-4zM203 192h1v1h-1zM220 192h1v8h-1zM231 192h1v1h-1zM252 192h6v1h-6zM265 192h1v1h-1zM170 193h1v1h-1zM193 193h4v1h-4zM204 193h2v1h-2zM232 193h2v1h-2zM249 193h6v1h-6zM266 193h1v1h-1zM166 194h1v1h-1zM190 194h3v1h-3zM206 194h2v1h-2zM234 194h1v1h-1zM246 194h6v1h-6zM267 194h2v1h-2zM420 194h1v1h-1zM162 195h1v1h-1zM186 195h4v1h-4zM207 195h1v1h-1zM235 195h1v1h-1zM243 195h6v1h-6zM269 195h1v1h-1zM82 196h1v1h-1zM109 196h1v1h-1zM136 196h1v1h-1zM163 196h1v1h-1zM182 196h4v1h-4zM208 196h2v1h-2zM236 196h2v1h-2zM240 196h6v1h-6zM270 196h2v1h-2zM158 197h1v1h-1zM180 197h2v2h-2zM210 197h1v1h-1zM238 197h2v1h-2zM241 197h2v1h-2zM272 197h1v1h-1zM154 198h1v1h-1zM211 198h1v1h-1zM238 198h1v8h-1zM241 198h3v1h-3zM273 198h1v1h-1zM420 198h1v1h-1zM150 199h1v1h-1zM180 199h1v11h-1zM182 199h1v1h-1zM212 199h2v1h-2zM217 199h2v1h-2zM241 199h1v10h-1zM244 199h1v1h-1zM274 199h2v1h-2zM414 199h1v1h-1zM82 200h1v1h-1zM109 200h1v1h-1zM136 200h1v1h-1zM146 200h1v1h-1zM163 200h1v1h-1zM183 200h2v1h-2zM214 200h3v1h-3zM219 200h2v1h-2zM245 200h1v1h-1zM275 200h2v1h-2zM142 201h1v1h-1zM185 201h1v1h-1zM211 201h3v1h-3zM221 201h1v1h-1zM246 201h2v1h-2zM272 201h3v1h-3zM276 201h1v88h-1zM418 201h1v1h-1zM186 202h1v1h-1zM208 202h3v1h-3zM222 202h1v1h-1zM248 202h1v1h-1zM269 202h3v1h-3zM420 202h1v1h-1zM138 203h1v1h-1zM187 203h1v1h-1zM205 203h3v1h-3zM223 203h2v1h-2zM249 203h2v1h-2zM266 203h3v1h-3zM82 204h1v1h-1zM109 204h1v1h-1zM134 204h1v1h-1zM136 204h1v1h-1zM163 204h1v1h-1zM188 204h1v1h-1zM202 204h3v1h-3zM225 204h1v1h-1zM251 204h1v1h-1zM263 204h3v1h-3zM422 204h1v1h-1zM130 205h1v1h-1zM189 205h2v1h-2zM199 205h3v1h-3zM226 205h2v1h-2zM234 205h2v1h-2zM252 205h1v1h-1zM260 205h3v1h-3zM126 206h1v1h-1zM191 206h1v1h-1zM197 206h2v1h-2zM228 206h1v1h-1zM230 206h4v1h-4zM236 206h3v1h-3zM253 206h2v1h-2zM257 206h3v1h-3zM420 206h1v1h-1zM122 207h1v1h-1zM174 207h2v1h-2zM192 207h1v1h-1zM195 207h5v1h-5zM227 207h3v1h-3zM238 207h1v1h-1zM255 207h2v1h-2zM426 207h1v1h-1zM82 208h1v1h-1zM109 208h1v1h-1zM136 208h1v1h-1zM163 208h1v1h-1zM171 208h3v1h-3zM176 208h1v1h-1zM193 208h2v1h-2zM197 208h1v18h-1zM200 208h1v1h-1zM223 208h4v1h-4zM239 208h1v1h-1zM255 208h1v92h-1zM118 209h1v1h-1zM168 209h3v1h-3zM177 209h2v1h-2zM193 209h1v14h-1zM201 209h1v1h-1zM220 209h3v1h-3zM240 209h2v1h-2zM114 210h1v1h-1zM165 210h3v1h-3zM179 210h2v1h-2zM202 210h2v1h-2zM216 210h4v1h-4zM242 210h1v1h-1zM420 210h1v1h-1zM110 211h1v1h-1zM161 211h4v1h-4zM180 211h1v1h-1zM204 211h1v1h-1zM214 211h2v2h-2zM243 211h2v1h-2zM82 212h1v1h-1zM106 212h1v1h-1zM109 212h1v1h-1zM136 212h1v1h-1zM158 212h3v1h-3zM181 212h2v1h-2zM205 212h2v1h-2zM245 212h1v1h-1zM102 213h1v1h-1zM155 213h3v1h-3zM183 213h1v1h-1zM207 213h1v1h-1zM214 213h1v2h-1zM216 213h2v1h-2zM246 213h1v1h-1zM98 214h1v1h-1zM153 214h2v2h-2zM184 214h1v1h-1zM208 214h1v1h-1zM218 214h1v1h-1zM247 214h2v1h-2zM420 214h1v1h-1zM185 215h2v1h-2zM209 215h2v1h-2zM213 215h2v1h-2zM219 215h1v1h-1zM248 215h2v1h-2zM82 216h1v1h-1zM94 216h1v1h-1zM109 216h1v1h-1zM136 216h1v1h-1zM153 216h1v6h-1zM155 216h2v1h-2zM187 216h1v1h-1zM211 216h2v1h-2zM214 216h1v15h-1zM220 216h1v1h-1zM245 216h3v1h-3zM249 216h1v81h-1zM90 217h1v1h-1zM157 217h1v1h-1zM187 217h2v1h-2zM211 217h1v11h-1zM221 217h2v1h-2zM242 217h3v1h-3zM86 218h1v1h-1zM158 218h1v1h-1zM184 218h3v1h-3zM188 218h1v5h-1zM223 218h1v1h-1zM239 218h3v1h-3zM420 218h1v1h-1zM82 219h1v2h-1zM147 219h2v1h-2zM159 219h2v1h-2zM181 219h3v1h-3zM224 219h1v1h-1zM236 219h3v1h-3zM78 220h1v1h-1zM109 220h1v1h-1zM136 220h1v1h-1zM144 220h3v1h-3zM149 220h1v1h-1zM161 220h1v1h-1zM178 220h3v1h-3zM225 220h2v1h-2zM233 220h3v1h-3zM141 221h3v1h-3zM150 221h2v1h-2zM162 221h1v1h-1zM174 221h4v1h-4zM227 221h1v1h-1zM230 221h3v1h-3zM74 222h1v1h-1zM138 222h3v1h-3zM152 222h2v1h-2zM163 222h2v1h-2zM171 222h3v1h-3zM190 222h2v1h-2zM228 222h2v1h-2zM420 222h1v1h-1zM49 223h1v1h-1zM70 223h1v1h-1zM134 223h4v1h-4zM153 223h1v1h-1zM165 223h1v1h-1zM168 223h3v1h-3zM187 223h3v1h-3zM192 223h2v1h-2zM228 223h1v85h-1zM50 224h1v1h-1zM66 224h1v1h-1zM82 224h1v1h-1zM109 224h1v1h-1zM131 224h3v1h-3zM154 224h2v1h-2zM166 224h2v1h-2zM184 224h3v1h-3zM194 224h1v1h-1zM51 225h2v1h-2zM62 225h1v1h-1zM128 225h3v1h-3zM156 225h1v1h-1zM166 225h1v25h-1zM181 225h3v1h-3zM195 225h1v1h-1zM53 226h1v1h-1zM58 226h1v1h-1zM126 226h2v2h-2zM157 226h1v1h-1zM178 226h3v1h-3zM196 226h2v1h-2zM420 226h1v1h-1zM54 227h2v1h-2zM158 227h2v1h-2zM175 227h3v1h-3zM198 227h1v1h-1zM207 227h2v1h-2zM55 228h1v41h-1zM82 228h1v1h-1zM109 228h1v1h-1zM126 228h1v28h-1zM128 228h2v1h-2zM160 228h1v1h-1zM172 228h3v1h-3zM199 228h2v1h-2zM203 228h4v1h-4zM209 228h3v1h-3zM130 229h1v1h-1zM160 229h2v1h-2zM170 229h2v1h-2zM200 229h3v1h-3zM211 229h1v1h-1zM131 230h1v1h-1zM157 230h3v1h-3zM161 230h1v20h-1zM170 230h3v1h-3zM196 230h4v1h-4zM212 230h1v1h-1zM420 230h1v1h-1zM132 231h2v1h-2zM154 231h3v1h-3zM170 231h1v22h-1zM173 231h1v1h-1zM193 231h3v1h-3zM213 231h2v1h-2zM82 232h1v1h-1zM109 232h1v1h-1zM134 232h1v1h-1zM151 232h3v1h-3zM174 232h1v1h-1zM189 232h4v1h-4zM215 232h1v1h-1zM135 233h1v1h-1zM147 233h4v1h-4zM175 233h2v1h-2zM187 233h2v2h-2zM216 233h2v1h-2zM136 234h2v1h-2zM144 234h3v1h-3zM177 234h1v1h-1zM218 234h1v1h-1zM420 234h1v1h-1zM138 235h1v1h-1zM141 235h3v1h-3zM178 235h2v1h-2zM187 235h1v3h-1zM189 235h2v1h-2zM219 235h1v1h-1zM82 236h1v1h-1zM109 236h1v1h-1zM139 236h2v1h-2zM180 236h1v1h-1zM191 236h1v1h-1zM220 236h2v1h-2zM139 237h1v43h-1zM181 237h1v1h-1zM192 237h1v1h-1zM221 237h2v1h-2zM182 238h2v1h-2zM186 238h2v1h-2zM193 238h1v1h-1zM218 238h3v1h-3zM222 238h1v67h-1zM420 238h1v1h-1zM184 239h2v1h-2zM187 239h1v23h-1zM194 239h2v1h-2zM215 239h3v1h-3zM82 240h1v1h-1zM109 240h1v1h-1zM184 240h1v19h-1zM196 240h1v1h-1zM212 240h3v1h-3zM414 240h1v1h-1zM197 241h1v1h-1zM209 241h3v1h-3zM198 242h2v1h-2zM206 242h3v1h-3zM420 242h1v1h-1zM200 243h1v1h-1zM203 243h3v1h-3zM418 243h1v1h-1zM82 244h1v1h-1zM109 244h1v1h-1zM201 244h2v1h-2zM201 245h1v71h-1zM420 246h1v1h-1zM422 246h1v1h-1zM416 247h1v1h-1zM82 248h1v1h-1zM109 248h1v1h-1zM411 248h2v1h-2zM122 249h1v1h-1zM163 249h2v1h-2zM411 249h1v6h-1zM426 249h1v1h-1zM160 250h3v1h-3zM165 250h2v1h-2zM426 250h2v1h-2zM118 251h1v1h-1zM157 251h3v1h-3zM167 251h1v1h-1zM423 251h3v1h-3zM82 252h1v1h-1zM109 252h1v1h-1zM114 252h1v1h-1zM154 252h3v1h-3zM168 252h1v1h-1zM419 252h4v1h-4zM110 253h1v1h-1zM120 253h2v1h-2zM151 253h3v1h-3zM169 253h2v1h-2zM416 253h3v1h-3zM106 254h1v1h-1zM116 254h4v1h-4zM122 254h1v1h-1zM148 254h3v1h-3zM171 254h1v1h-1zM413 254h3v1h-3zM102 255h1v1h-1zM112 255h4v1h-4zM123 255h2v1h-2zM145 255h3v1h-3zM172 255h2v1h-2zM410 255h3v1h-3zM82 256h1v1h-1zM98 256h1v1h-1zM109 256h3v1h-3zM125 256h2v1h-2zM143 256h2v1h-2zM174 256h1v1h-1zM406 256h4v1h-4zM105 257h4v1h-4zM126 257h1v1h-1zM143 257h3v1h-3zM175 257h1v1h-1zM384 257h2v1h-2zM403 257h3v1h-3zM94 258h1v1h-1zM101 258h4v1h-4zM127 258h2v1h-2zM143 258h1v25h-1zM146 258h1v1h-1zM176 258h2v1h-2zM180 258h2v1h-2zM384 258h1v5h-1zM386 258h1v1h-1zM399 258h4v1h-4zM90 259h1v1h-1zM99 259h2v2h-2zM129 259h1v1h-1zM147 259h1v1h-1zM177 259h3v1h-3zM182 259h3v1h-3zM387 259h1v1h-1zM396 259h3v1h-3zM401 259h1v1h-1zM82 260h1v2h-1zM86 260h1v1h-1zM130 260h1v1h-1zM148 260h2v1h-2zM174 260h3v1h-3zM184 260h1v1h-1zM388 260h3v1h-3zM392 260h4v1h-4zM402 260h2v1h-2zM99 261h1v37h-1zM101 261h1v1h-1zM131 261h2v1h-2zM150 261h1v1h-1zM171 261h3v1h-3zM185 261h1v1h-1zM389 261h4v1h-4zM404 261h1v1h-1zM78 262h1v1h-1zM102 262h2v1h-2zM133 262h1v1h-1zM151 262h2v1h-2zM168 262h3v1h-3zM186 262h2v1h-2zM386 262h3v1h-3zM405 262h1v1h-1zM104 263h1v1h-1zM133 263h2v1h-2zM153 263h1v1h-1zM165 263h3v1h-3zM188 263h1v1h-1zM383 263h3v1h-3zM406 263h1v1h-1zM74 264h1v1h-1zM82 264h1v1h-1zM105 264h1v1h-1zM130 264h3v1h-3zM134 264h1v16h-1zM154 264h1v1h-1zM162 264h3v1h-3zM189 264h2v1h-2zM379 264h4v1h-4zM49 265h1v1h-1zM70 265h1v1h-1zM106 265h1v1h-1zM127 265h3v1h-3zM155 265h2v1h-2zM159 265h3v1h-3zM191 265h1v1h-1zM357 265h2v1h-2zM376 265h3v1h-3zM50 266h1v1h-1zM66 266h1v1h-1zM107 266h1v1h-1zM124 266h3v1h-3zM157 266h2v1h-2zM160 266h3v1h-3zM192 266h1v1h-1zM357 266h1v5h-1zM359 266h1v1h-1zM372 266h4v1h-4zM51 267h2v1h-2zM62 267h1v1h-1zM108 267h2v1h-2zM120 267h4v1h-4zM157 267h1v25h-1zM160 267h1v28h-1zM163 267h1v1h-1zM193 267h2v1h-2zM360 267h1v1h-1zM369 267h3v1h-3zM374 267h1v1h-1zM53 268h1v1h-1zM58 268h1v1h-1zM82 268h1v1h-1zM110 268h1v1h-1zM117 268h3v1h-3zM164 268h1v1h-1zM194 268h2v1h-2zM361 268h3v1h-3zM365 268h4v1h-4zM375 268h2v1h-2zM54 269h2v1h-2zM111 269h1v1h-1zM114 269h3v1h-3zM165 269h2v1h-2zM191 269h3v1h-3zM195 269h1v44h-1zM362 269h4v1h-4zM377 269h1v1h-1zM55 270h1v41h-1zM112 270h2v1h-2zM167 270h1v1h-1zM188 270h3v1h-3zM359 270h3v1h-3zM378 270h1v1h-1zM112 271h1v36h-1zM168 271h2v1h-2zM185 271h3v1h-3zM356 271h3v1h-3zM379 271h1v1h-1zM82 272h1v1h-1zM170 272h1v1h-1zM182 272h3v1h-3zM352 272h4v1h-4zM171 273h1v1h-1zM179 273h3v1h-3zM330 273h2v1h-2zM349 273h3v1h-3zM172 274h2v1h-2zM176 274h3v1h-3zM330 274h1v5h-1zM332 274h1v1h-1zM345 274h4v1h-4zM174 275h2v1h-2zM333 275h1v1h-1zM342 275h3v1h-3zM347 275h1v1h-1zM82 276h1v1h-1zM174 276h1v48h-1zM334 276h3v1h-3zM338 276h4v1h-4zM348 276h2v1h-2zM335 277h4v1h-4zM350 277h1v1h-1zM332 278h3v1h-3zM351 278h1v1h-1zM136 279h2v1h-2zM329 279h3v1h-3zM352 279h1v1h-1zM82 280h1v1h-1zM133 280h3v1h-3zM138 280h2v1h-2zM325 280h4v1h-4zM130 281h3v1h-3zM140 281h1v1h-1zM303 281h2v1h-2zM322 281h3v1h-3zM127 282h3v1h-3zM141 282h1v1h-1zM303 282h1v5h-1zM305 282h1v1h-1zM318 282h4v1h-4zM124 283h3v1h-3zM142 283h2v1h-2zM306 283h1v1h-1zM315 283h4v1h-4zM320 283h1v1h-1zM82 284h1v1h-1zM121 284h3v1h-3zM144 284h1v1h-1zM307 284h3v1h-3zM311 284h4v1h-4zM321 284h2v1h-2zM118 285h3v1h-3zM145 285h2v1h-2zM309 285h3v1h-3zM323 285h1v1h-1zM116 286h2v1h-2zM147 286h1v1h-1zM305 286h4v1h-4zM324 286h1v1h-1zM116 287h3v1h-3zM148 287h1v1h-1zM302 287h3v1h-3zM325 287h1v1h-1zM82 288h1v1h-1zM116 288h1v19h-1zM119 288h1v1h-1zM149 288h2v1h-2zM298 288h4v1h-4zM120 289h1v1h-1zM150 289h2v1h-2zM276 289h2v1h-2zM295 289h3v1h-3zM121 290h2v1h-2zM147 290h3v1h-3zM151 290h1v2h-1zM276 290h1v5h-1zM278 290h1v1h-1zM291 290h4v1h-4zM123 291h1v1h-1zM144 291h3v1h-3zM153 291h2v1h-2zM279 291h1v1h-1zM288 291h4v1h-4zM293 291h1v1h-1zM82 292h1v1h-1zM124 292h2v1h-2zM141 292h3v1h-3zM150 292h3v1h-3zM155 292h3v1h-3zM280 292h3v1h-3zM284 292h4v1h-4zM294 292h2v1h-2zM126 293h1v1h-1zM138 293h3v1h-3zM147 293h3v1h-3zM157 293h1v1h-1zM282 293h3v1h-3zM296 293h1v1h-1zM127 294h1v1h-1zM135 294h3v1h-3zM144 294h3v1h-3zM158 294h1v1h-1zM278 294h4v1h-4zM297 294h1v1h-1zM128 295h2v1h-2zM132 295h3v1h-3zM141 295h3v1h-3zM159 295h2v1h-2zM275 295h3v1h-3zM298 295h1v1h-1zM82 296h1v1h-1zM130 296h2v1h-2zM138 296h3v1h-3zM161 296h1v1h-1zM271 296h4v1h-4zM130 297h1v23h-1zM135 297h3v1h-3zM162 297h2v1h-2zM249 297h2v1h-2zM268 297h4v1h-4zM98 298h2v1h-2zM133 298h2v1h-2zM164 298h1v1h-1zM249 298h1v5h-1zM251 298h1v1h-1zM264 298h4v1h-4zM100 299h1v1h-1zM133 299h3v1h-3zM165 299h1v1h-1zM252 299h1v1h-1zM261 299h4v1h-4zM266 299h1v1h-1zM82 300h1v1h-1zM93 300h2v1h-2zM101 300h2v1h-2zM133 300h1v20h-1zM136 300h1v1h-1zM166 300h2v1h-2zM253 300h3v1h-3zM257 300h4v1h-4zM267 300h2v1h-2zM89 301h4v1h-4zM95 301h1v1h-1zM103 301h1v1h-1zM137 301h1v1h-1zM167 301h2v1h-2zM255 301h3v1h-3zM269 301h1v1h-1zM85 302h4v1h-4zM96 302h2v1h-2zM104 302h1v1h-1zM138 302h2v1h-2zM164 302h3v1h-3zM168 302h1v19h-1zM251 302h4v1h-4zM270 302h1v1h-1zM82 303h3v1h-3zM98 303h1v1h-1zM105 303h2v1h-2zM140 303h1v1h-1zM161 303h3v1h-3zM248 303h3v1h-3zM271 303h1v1h-1zM78 304h4v1h-4zM99 304h1v1h-1zM107 304h1v1h-1zM141 304h2v1h-2zM158 304h3v1h-3zM244 304h4v1h-4zM74 305h4v1h-4zM100 305h2v1h-2zM108 305h1v1h-1zM143 305h1v1h-1zM155 305h3v1h-3zM222 305h2v1h-2zM241 305h4v1h-4zM72 306h2v1h-2zM102 306h1v1h-1zM109 306h2v1h-2zM144 306h1v1h-1zM152 306h3v1h-3zM222 306h1v5h-1zM224 306h1v1h-1zM237 306h4v1h-4zM49 307h1v1h-1zM70 307h1v1h-1zM73 307h1v1h-1zM103 307h1v1h-1zM111 307h2v1h-2zM114 307h3v1h-3zM145 307h2v1h-2zM149 307h3v1h-3zM225 307h1v1h-1zM234 307h4v1h-4zM239 307h1v1h-1zM50 308h1v1h-1zM66 308h1v1h-1zM74 308h2v1h-2zM104 308h2v1h-2zM112 308h2v1h-2zM116 308h1v4h-1zM147 308h2v1h-2zM226 308h3v1h-3zM230 308h5v1h-5zM240 308h2v1h-2zM51 309h2v1h-2zM62 309h1v1h-1zM76 309h1v1h-1zM106 309h1v1h-1zM147 309h1v23h-1zM228 309h3v1h-3zM242 309h1v1h-1zM53 310h1v1h-1zM58 310h1v1h-1zM77 310h1v1h-1zM106 310h2v1h-2zM224 310h4v1h-4zM243 310h1v1h-1zM54 311h2v1h-2zM78 311h2v1h-2zM102 311h4v1h-4zM221 311h3v1h-3zM244 311h1v1h-1zM56 312h2v1h-2zM77 312h1v1h-1zM80 312h1v1h-1zM98 312h4v1h-4zM117 312h2v1h-2zM217 312h4v1h-4zM58 313h1v1h-1zM73 313h1v1h-1zM81 313h1v1h-1zM95 313h3v1h-3zM109 313h2v1h-2zM119 313h1v1h-1zM195 313h2v1h-2zM214 313h4v1h-4zM59 314h1v1h-1zM69 314h1v1h-1zM82 314h2v1h-2zM91 314h4v1h-4zM105 314h4v1h-4zM111 314h2v1h-2zM120 314h1v1h-1zM195 314h1v5h-1zM197 314h1v1h-1zM210 314h4v1h-4zM60 315h2v1h-2zM65 315h1v1h-1zM84 315h1v1h-1zM87 315h4v1h-4zM102 315h3v1h-3zM113 315h1v1h-1zM121 315h2v1h-2zM198 315h1v1h-1zM207 315h4v1h-4zM212 315h1v1h-1zM62 316h1v1h-1zM85 316h2v1h-2zM98 316h4v1h-4zM114 316h1v1h-1zM123 316h1v1h-1zM199 316h3v1h-3zM203 316h5v1h-5zM213 316h2v1h-2zM59 317h3v1h-3zM63 317h1v1h-1zM95 317h3v1h-3zM115 317h2v1h-2zM119 317h1v1h-1zM124 317h2v1h-2zM201 317h3v1h-3zM215 317h1v1h-1zM57 318h2v1h-2zM64 318h2v1h-2zM91 318h4v1h-4zM117 318h1v1h-1zM126 318h1v1h-1zM198 318h3v1h-3zM216 318h1v1h-1zM54 319h3v1h-3zM66 319h1v1h-1zM89 319h2v1h-2zM118 319h2v1h-2zM127 319h1v1h-1zM194 319h4v1h-4zM217 319h1v1h-1zM67 320h1v1h-1zM90 320h2v1h-2zM120 320h1v1h-1zM128 320h3v1h-3zM132 320h2v1h-2zM190 320h4v1h-4zM68 321h2v1h-2zM92 321h1v1h-1zM121 321h1v1h-1zM130 321h2v1h-2zM133 321h1v3h-1zM168 321h2v1h-2zM187 321h4v1h-4zM70 322h1v1h-1zM93 322h1v1h-1zM122 322h2v1h-2zM168 322h1v5h-1zM170 322h1v1h-1zM183 322h4v1h-4zM71 323h1v1h-1zM94 323h2v1h-2zM123 323h2v1h-2zM171 323h1v1h-1zM180 323h4v1h-4zM185 323h1v1h-1zM72 324h2v1h-2zM95 324h2v1h-2zM119 324h4v1h-4zM134 324h2v1h-2zM172 324h3v1h-3zM176 324h5v1h-5zM186 324h2v1h-2zM74 325h1v1h-1zM91 325h1v1h-1zM97 325h2v1h-2zM116 325h3v1h-3zM126 325h2v1h-2zM136 325h1v1h-1zM174 325h3v1h-3zM188 325h1v1h-1zM75 326h1v1h-1zM99 326h1v1h-1zM112 326h4v1h-4zM122 326h4v1h-4zM128 326h2v1h-2zM137 326h1v1h-1zM171 326h3v1h-3zM189 326h1v1h-1zM76 327h2v1h-2zM87 327h1v1h-1zM100 327h1v1h-1zM109 327h3v1h-3zM115 327h1v1h-1zM119 327h3v1h-3zM130 327h1v1h-1zM138 327h2v1h-2zM167 327h4v1h-4zM190 327h1v1h-1zM78 328h1v1h-1zM83 328h1v1h-1zM101 328h2v1h-2zM105 328h4v1h-4zM115 328h4v1h-4zM131 328h1v1h-1zM140 328h1v1h-1zM163 328h4v1h-4zM79 329h2v1h-2zM103 329h2v1h-2zM112 329h3v1h-3zM132 329h2v1h-2zM140 329h3v1h-3zM160 329h4v1h-4zM75 330h5v1h-5zM81 330h1v1h-1zM108 330h4v1h-4zM134 330h1v1h-1zM136 330h1v1h-1zM143 330h1v1h-1zM156 330h5v1h-5zM71 331h4v1h-4zM82 331h1v1h-1zM106 331h2v1h-2zM135 331h2v1h-2zM144 331h1v1h-1zM153 331h4v1h-4zM158 331h1v1h-1zM83 332h2v1h-2zM107 332h2v1h-2zM137 332h1v1h-1zM145 332h3v1h-3zM149 332h5v1h-5zM159 332h2v1h-2zM85 333h1v1h-1zM109 333h1v1h-1zM138 333h1v1h-1zM147 333h3v1h-3zM161 333h1v1h-1zM86 334h1v1h-1zM110 334h1v1h-1zM139 334h2v1h-2zM144 334h3v1h-3zM162 334h1v1h-1zM87 335h2v1h-2zM111 335h2v1h-2zM140 335h4v1h-4zM163 335h1v1h-1zM89 336h1v1h-1zM113 336h1v1h-1zM136 336h4v1h-4zM90 337h1v1h-1zM112 337h1v1h-1zM114 337h2v1h-2zM133 337h4v1h-4zM91 338h2v1h-2zM108 338h1v1h-1zM116 338h1v1h-1zM129 338h5v1h-5zM93 339h1v1h-1zM104 339h1v1h-1zM117 339h1v1h-1zM126 339h4v1h-4zM131 339h1v1h-1zM94 340h1v1h-1zM100 340h1v1h-1zM118 340h2v1h-2zM122 340h5v1h-5zM132 340h2v1h-2zM95 341h2v1h-2zM120 341h4v1h-4zM134 341h1v1h-1zM95 342h4v1h-4zM117 342h3v1h-3zM135 342h1v1h-1zM92 343h3v1h-3zM98 343h2v1h-2zM113 343h4v1h-4zM136 343h1v1h-1zM89 344h3v1h-3zM100 344h1v1h-1zM110 344h3v1h-3zM101 345h1v1h-1zM107 345h3v1h-3zM102 346h5v1h-5z"/>
</g>
<g class="tick">
<text transform="translate(184.3,1252) scale(0.89,1)" text-anchor="end">0</text>
<text transform="translate(184.3,1086.7) scale(0.89,1)" text-anchor="end">0.2</text>
<text transform="translate(184.3,917.5) scale(0.89,1)" text-anchor="end">0.4</text>
<text transform="translate(184.3,748.2) scale(0.89,1)" text-anchor="end">0.6</text>
<text transform="translate(184.3,579) scale(0.89,1)" text-anchor="end">0.8</text>
<text transform="translate(184.3,409.7) scale(0.89,1)" text-anchor="end">1</text>
<text transform="translate(204.4,1348.7) scale(0.89,1)" text-anchor="end">3rd</text>
<text transform="translate(272.6,1397.1) scale(0.89,1)" text-anchor="end">2nd</text>
<text transform="translate(340.9,1449.5) scale(0.89,1)" text-anchor="end">1st</text>
<text transform="translate(561.7,1453.5) scale(0.89,1)" text-anchor="start">30</text>
<text transform="translate(670,1421.2) scale(0.89,1)" text-anchor="start">27</text>
<text transform="translate(778.4,1385) scale(0.89,1)" text-anchor="start">24</text>
<text transform="translate(886.8,1352.7) scale(0.89,1)" text-anchor="start">21</text>
<text transform="translate(995.1,1320.5) scale(0.89,1)" text-anchor="start">18</text>
<text transform="translate(1103.5,1288.3) scale(0.89,1)" text-anchor="start">15</text>
<text transform="translate(1211.9,1256) scale(0.89,1)" text-anchor="start">12</text>
<text transform="translate(1320.3,1223.8) scale(0.89,1)" text-anchor="start">9</text>
<text transform="translate(1428.6,1191.5) scale(0.89,1)" text-anchor="start">6</text>
<text transform="translate(1533,1159.3) scale(0.89,1)" text-anchor="start">3</text>
<text transform="translate(1641.4,1131.1) scale(0.89,1)" text-anchor="start">0</text>
</g>
<g class="ttl">
<text transform="translate(67.3,1269.1) rotate(-90)" text-anchor="start" font-size="72.4">Pre-tension looseness index</text>
<text transform="translate(877.5,1455.2) rotate(-17.5)" text-anchor="start" font-size="72">Pre-tension (Mpa)</text>
</g>
</svg>
</body></html>
